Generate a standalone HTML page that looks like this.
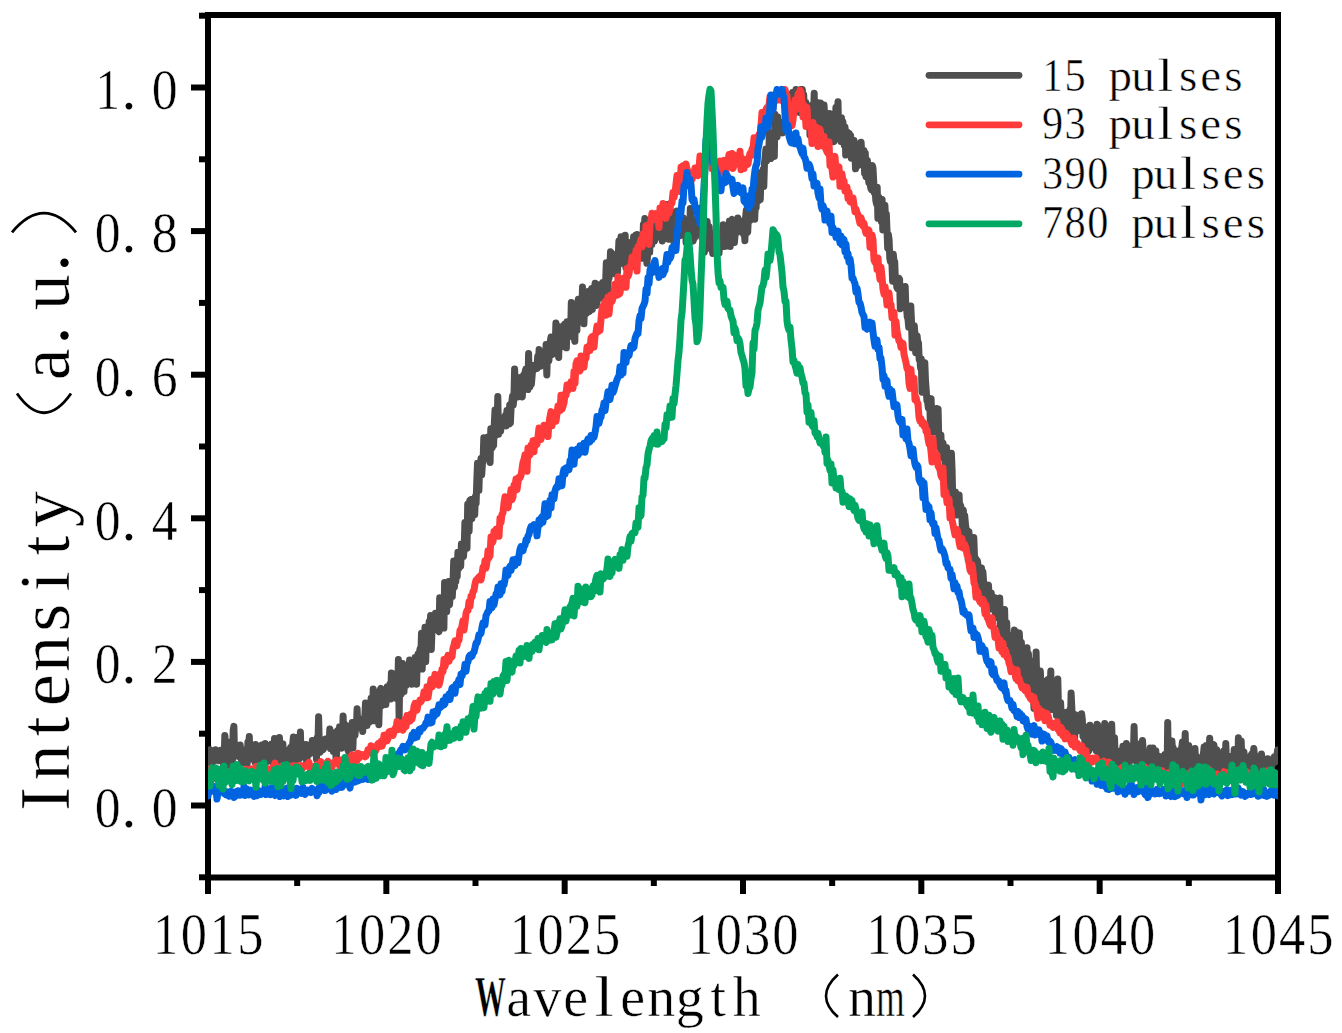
<!DOCTYPE html>
<html><head><meta charset="utf-8"><style>
html,body{margin:0;padding:0;background:#fff;overflow:hidden;}
svg{display:block;font-family:"Liberation Serif",serif;}
</style></head><body>
<svg width="1342" height="1033" viewBox="0 0 1342 1033" font-family="Liberation Serif, serif" fill="#000">
<clipPath id="c"><rect x="208.0" y="15" width="1070.0" height="862"/></clipPath>
<rect x="208" y="15" width="1070" height="862.5" fill="none" stroke="#000" stroke-width="6"/>
<line x1="199" y1="877.30" x2="208" y2="877.30" stroke="#000" stroke-width="6"/>
<line x1="191" y1="805.50" x2="208" y2="805.50" stroke="#000" stroke-width="6"/>
<line x1="199" y1="733.70" x2="208" y2="733.70" stroke="#000" stroke-width="6"/>
<line x1="191" y1="661.90" x2="208" y2="661.90" stroke="#000" stroke-width="6"/>
<line x1="199" y1="590.10" x2="208" y2="590.10" stroke="#000" stroke-width="6"/>
<line x1="191" y1="518.30" x2="208" y2="518.30" stroke="#000" stroke-width="6"/>
<line x1="199" y1="446.50" x2="208" y2="446.50" stroke="#000" stroke-width="6"/>
<line x1="191" y1="374.70" x2="208" y2="374.70" stroke="#000" stroke-width="6"/>
<line x1="199" y1="302.90" x2="208" y2="302.90" stroke="#000" stroke-width="6"/>
<line x1="191" y1="231.10" x2="208" y2="231.10" stroke="#000" stroke-width="6"/>
<line x1="199" y1="159.30" x2="208" y2="159.30" stroke="#000" stroke-width="6"/>
<line x1="191" y1="87.50" x2="208" y2="87.50" stroke="#000" stroke-width="6"/>
<line x1="199" y1="15.70" x2="208" y2="15.70" stroke="#000" stroke-width="6"/>
<line x1="208.00" y1="877.5" x2="208.00" y2="894" stroke="#000" stroke-width="6"/>
<line x1="297.17" y1="877.5" x2="297.17" y2="886" stroke="#000" stroke-width="6"/>
<line x1="386.33" y1="877.5" x2="386.33" y2="894" stroke="#000" stroke-width="6"/>
<line x1="475.50" y1="877.5" x2="475.50" y2="886" stroke="#000" stroke-width="6"/>
<line x1="564.67" y1="877.5" x2="564.67" y2="894" stroke="#000" stroke-width="6"/>
<line x1="653.83" y1="877.5" x2="653.83" y2="886" stroke="#000" stroke-width="6"/>
<line x1="743.00" y1="877.5" x2="743.00" y2="894" stroke="#000" stroke-width="6"/>
<line x1="832.17" y1="877.5" x2="832.17" y2="886" stroke="#000" stroke-width="6"/>
<line x1="921.33" y1="877.5" x2="921.33" y2="894" stroke="#000" stroke-width="6"/>
<line x1="1010.50" y1="877.5" x2="1010.50" y2="886" stroke="#000" stroke-width="6"/>
<line x1="1099.67" y1="877.5" x2="1099.67" y2="894" stroke="#000" stroke-width="6"/>
<line x1="1188.83" y1="877.5" x2="1188.83" y2="886" stroke="#000" stroke-width="6"/>
<line x1="1278.00" y1="877.5" x2="1278.00" y2="894" stroke="#000" stroke-width="6"/>
<g clip-path="url(#c)">
<path d="M208.0 762.5 L208.7 765.6 L209.4 761.8 L210.1 749.8 L210.8 765.4 L211.5 761.8 L212.2 754.5 L212.9 762.3 L213.6 760.5 L214.3 759.8 L215.0 757.6 L215.7 749.8 L216.4 751.6 L217.1 755.6 L217.8 753.1 L218.5 760.8 L219.2 756.5 L219.9 753.9 L220.6 750.2 L221.3 753.9 L222.0 755.7 L222.7 753.5 L223.4 764.9 L224.1 762.7 L224.8 735.4 L225.5 741.3 L226.2 753.8 L226.9 752.0 L227.6 756.6 L228.3 756.6 L229.0 770.5 L229.7 746.9 L230.4 752.3 L231.1 770.0 L231.8 741.6 L232.5 760.0 L233.2 729.9 L233.9 726.4 L234.6 756.6 L235.3 756.3 L236.0 746.7 L236.7 750.7 L237.4 755.3 L238.1 749.0 L238.8 755.3 L239.5 756.9 L240.2 745.1 L240.9 752.7 L241.6 760.8 L242.3 763.1 L243.0 759.0 L243.7 750.8 L244.4 762.1 L245.1 753.2 L245.8 763.3 L246.5 749.2 L247.2 763.6 L247.9 742.0 L248.6 747.9 L249.3 736.4 L250.0 757.4 L250.7 758.9 L251.4 749.8 L252.1 748.8 L252.8 758.3 L253.5 753.4 L254.2 758.4 L254.9 762.2 L255.6 744.6 L256.3 758.3 L257.0 765.3 L257.7 754.2 L258.4 750.3 L259.1 761.6 L259.8 757.9 L260.5 762.5 L261.2 753.4 L261.9 745.0 L262.6 754.9 L263.3 752.4 L264.0 761.3 L264.7 756.9 L265.4 743.5 L266.1 746.6 L266.8 761.8 L267.5 760.2 L268.2 750.5 L268.9 755.1 L269.6 758.4 L270.3 758.5 L271.0 761.4 L271.7 744.1 L272.4 754.3 L273.1 753.1 L273.8 762.7 L274.5 738.5 L275.2 754.0 L275.9 755.2 L276.6 744.6 L277.3 757.4 L278.0 750.2 L278.7 761.3 L279.4 737.4 L280.1 745.2 L280.8 763.9 L281.5 757.8 L282.2 748.6 L282.9 743.9 L283.6 767.8 L284.3 754.2 L285.0 750.0 L285.7 756.1 L286.4 753.6 L287.1 761.2 L287.8 755.2 L288.5 755.1 L289.2 749.8 L289.9 758.4 L290.6 747.4 L291.3 759.9 L292.0 766.2 L292.7 743.8 L293.4 737.0 L294.1 759.5 L294.8 773.6 L295.5 747.7 L296.2 745.8 L296.9 759.3 L297.6 737.3 L298.3 751.2 L299.0 752.3 L299.7 758.6 L300.4 732.0 L301.1 756.5 L301.8 752.9 L302.5 747.8 L303.2 751.4 L303.9 746.5 L304.6 753.3 L305.3 744.6 L306.0 744.6 L306.7 763.1 L307.4 751.5 L308.1 751.2 L308.8 755.0 L309.5 747.7 L310.2 748.8 L310.9 753.2 L311.6 751.8 L312.3 740.6 L313.0 741.0 L313.7 744.1 L314.4 740.2 L315.1 741.0 L315.8 744.4 L316.5 759.3 L317.2 737.8 L317.9 747.5 L318.6 716.7 L319.3 745.7 L320.0 752.3 L320.7 743.3 L321.4 740.0 L322.1 746.4 L322.8 749.8 L323.5 749.2 L324.2 740.9 L324.9 745.3 L325.6 738.9 L326.3 742.3 L327.0 742.5 L327.7 743.7 L328.4 742.4 L329.1 743.8 L329.8 729.1 L330.5 748.5 L331.2 737.3 L331.9 732.4 L332.6 746.4 L333.3 751.6 L334.0 744.9 L334.7 742.0 L335.4 733.2 L336.1 763.1 L336.8 747.1 L337.5 730.8 L338.2 733.5 L338.9 740.1 L339.6 726.8 L340.3 740.3 L341.0 735.0 L341.7 748.3 L342.4 745.9 L343.1 716.0 L343.8 737.9 L344.5 724.1 L345.2 745.9 L345.9 737.9 L346.6 740.7 L347.3 727.1 L348.0 750.5 L348.7 751.7 L349.4 725.9 L350.1 737.3 L350.8 728.2 L351.5 733.2 L352.2 722.4 L352.9 748.1 L353.6 723.8 L354.3 729.0 L355.0 735.2 L355.7 724.9 L356.4 727.9 L357.1 708.7 L357.8 727.7 L358.5 718.2 L359.2 723.9 L359.9 725.3 L360.6 723.6 L361.3 726.4 L362.0 722.8 L362.7 731.4 L363.4 721.3 L364.1 722.3 L364.8 717.0 L365.5 703.0 L366.2 710.3 L366.9 725.6 L367.6 710.0 L368.3 712.9 L369.0 722.3 L369.7 722.0 L370.4 713.9 L371.1 698.2 L371.8 720.0 L372.5 717.6 L373.2 689.0 L373.9 720.8 L374.6 706.0 L375.3 701.0 L376.0 711.7 L376.7 708.1 L377.4 710.8 L378.1 692.3 L378.8 724.7 L379.5 700.0 L380.2 689.7 L380.9 688.3 L381.6 699.5 L382.3 705.4 L383.0 697.7 L383.7 699.6 L384.4 701.8 L385.1 690.8 L385.8 704.6 L386.5 691.9 L387.2 686.9 L387.9 696.0 L388.6 699.1 L389.3 691.3 L390.0 683.9 L390.7 699.0 L391.4 673.0 L392.1 680.2 L392.8 673.5 L393.5 675.4 L394.2 689.8 L394.9 688.4 L395.6 698.2 L396.3 678.0 L397.0 680.7 L397.7 690.6 L398.4 659.6 L399.1 718.8 L399.8 677.8 L400.5 676.9 L401.2 693.9 L401.9 683.4 L402.6 663.5 L403.3 673.8 L404.0 691.6 L404.7 676.4 L405.4 677.6 L406.1 685.6 L406.8 669.0 L407.5 683.6 L408.2 680.0 L408.9 669.1 L409.6 659.9 L410.3 672.3 L411.0 663.8 L411.7 684.2 L412.4 673.2 L413.1 679.3 L413.8 670.5 L414.5 670.7 L415.2 657.4 L415.9 672.7 L416.6 684.2 L417.3 658.7 L418.0 654.1 L418.7 657.7 L419.4 652.6 L420.1 648.7 L420.8 657.0 L421.5 633.2 L422.2 669.1 L422.9 651.1 L423.6 653.4 L424.3 659.1 L425.0 627.2 L425.7 661.6 L426.4 636.3 L427.1 632.8 L427.8 636.4 L428.5 637.8 L429.2 621.5 L429.9 635.8 L430.6 615.6 L431.3 649.4 L432.0 631.1 L432.7 623.3 L433.4 618.8 L434.1 623.5 L434.8 624.0 L435.5 613.2 L436.2 613.3 L436.9 620.4 L437.6 615.3 L438.3 630.7 L439.0 631.7 L439.7 597.8 L440.4 621.4 L441.1 599.3 L441.8 620.7 L442.5 611.7 L443.2 616.5 L443.9 628.1 L444.6 582.4 L445.3 610.4 L446.0 593.6 L446.7 611.7 L447.4 588.3 L448.1 596.1 L448.8 581.6 L449.5 604.6 L450.2 595.9 L450.9 583.2 L451.6 583.1 L452.3 596.6 L453.0 583.3 L453.7 561.0 L454.4 587.1 L455.1 579.3 L455.8 581.8 L456.5 565.3 L457.2 576.3 L457.9 552.2 L458.6 568.7 L459.3 554.2 L460.0 565.2 L460.7 566.5 L461.4 543.9 L462.1 549.0 L462.8 547.0 L463.5 556.5 L464.2 547.5 L464.9 522.4 L465.6 537.3 L466.3 522.5 L467.0 548.3 L467.7 504.2 L468.4 513.7 L469.1 531.1 L469.8 500.3 L470.5 499.8 L471.2 515.8 L471.9 518.9 L472.6 499.2 L473.3 509.5 L474.0 502.8 L474.7 514.7 L475.4 496.4 L476.1 503.3 L476.8 480.9 L477.5 463.3 L478.2 481.9 L478.9 490.4 L479.6 467.3 L480.3 465.5 L481.0 458.5 L481.7 474.8 L482.4 464.1 L483.1 460.5 L483.8 437.7 L484.5 443.1 L485.2 458.6 L485.9 457.1 L486.6 445.1 L487.3 458.0 L488.0 437.0 L488.7 442.9 L489.4 442.0 L490.1 462.5 L490.8 428.7 L491.5 446.3 L492.2 447.9 L492.9 440.6 L493.6 445.4 L494.3 423.5 L495.0 410.0 L495.7 435.4 L496.4 416.8 L497.1 423.5 L497.8 396.5 L498.5 434.2 L499.2 420.4 L499.9 417.4 L500.6 431.2 L501.3 423.7 L502.0 420.9 L502.7 422.1 L503.4 419.1 L504.1 425.6 L504.8 422.0 L505.5 415.2 L506.2 425.9 L506.9 410.4 L507.6 416.9 L508.3 416.5 L509.0 424.1 L509.7 405.0 L510.4 422.8 L511.1 407.3 L511.8 402.2 L512.5 396.2 L513.2 405.2 L513.9 398.7 L514.6 368.9 L515.3 384.3 L516.0 386.8 L516.7 383.3 L517.4 396.2 L518.1 396.7 L518.8 390.8 L519.5 385.3 L520.2 377.6 L520.9 380.8 L521.6 387.1 L522.3 396.9 L523.0 385.8 L523.7 375.0 L524.4 377.1 L525.1 372.1 L525.8 369.0 L526.5 373.5 L527.2 376.2 L527.9 389.6 L528.6 353.4 L529.3 384.2 L530.0 387.0 L530.7 371.9 L531.4 384.2 L532.1 375.9 L532.8 365.6 L533.5 370.7 L534.2 367.9 L534.9 365.0 L535.6 364.5 L536.3 366.7 L537.0 368.5 L537.7 356.5 L538.4 363.2 L539.1 349.6 L539.8 352.4 L540.5 366.3 L541.2 361.6 L541.9 361.9 L542.6 363.7 L543.3 352.2 L544.0 355.0 L544.7 360.5 L545.4 363.7 L546.1 344.4 L546.8 375.0 L547.5 351.5 L548.2 359.7 L548.9 360.9 L549.6 348.0 L550.3 341.1 L551.0 337.0 L551.7 347.4 L552.4 354.5 L553.1 346.5 L553.8 344.8 L554.5 339.3 L555.2 346.5 L555.9 322.9 L556.6 342.5 L557.3 340.2 L558.0 327.8 L558.7 357.5 L559.4 326.8 L560.1 329.1 L560.8 327.6 L561.5 346.9 L562.2 329.5 L562.9 342.3 L563.6 325.6 L564.3 337.8 L565.0 323.9 L565.7 329.1 L566.4 347.8 L567.1 321.8 L567.8 324.8 L568.5 329.6 L569.2 336.9 L569.9 331.2 L570.6 334.3 L571.3 302.6 L572.0 312.2 L572.7 329.7 L573.4 310.3 L574.1 335.9 L574.8 341.3 L575.5 314.2 L576.2 320.1 L576.9 330.4 L577.6 304.7 L578.3 299.3 L579.0 304.0 L579.7 309.1 L580.4 307.8 L581.1 316.8 L581.8 312.9 L582.5 287.1 L583.2 313.6 L583.9 323.8 L584.6 304.3 L585.3 314.6 L586.0 305.6 L586.7 313.0 L587.4 295.7 L588.1 291.6 L588.8 301.8 L589.5 311.4 L590.2 305.0 L590.9 291.1 L591.6 288.5 L592.3 309.3 L593.0 288.6 L593.7 292.7 L594.4 290.1 L595.1 283.2 L595.8 303.3 L596.5 305.5 L597.2 300.4 L597.9 294.9 L598.6 291.7 L599.3 293.4 L600.0 284.4 L600.7 297.3 L601.4 297.8 L602.1 295.9 L602.8 282.4 L603.5 286.5 L604.2 283.2 L604.9 298.2 L605.6 282.5 L606.3 262.8 L607.0 279.8 L607.7 290.2 L608.4 277.9 L609.1 277.9 L609.8 269.5 L610.5 251.8 L611.2 252.6 L611.9 256.9 L612.6 266.0 L613.3 269.4 L614.0 254.5 L614.7 263.3 L615.4 274.0 L616.1 263.2 L616.8 259.3 L617.5 272.2 L618.2 256.8 L618.9 240.9 L619.6 254.5 L620.3 263.7 L621.0 236.8 L621.7 258.5 L622.4 258.0 L623.1 247.9 L623.8 246.7 L624.5 254.6 L625.2 235.2 L625.9 267.7 L626.6 259.3 L627.3 241.9 L628.0 247.2 L628.7 242.5 L629.4 268.8 L630.1 255.2 L630.8 253.8 L631.5 266.3 L632.2 249.6 L632.9 246.7 L633.6 236.7 L634.3 243.9 L635.0 266.3 L635.7 235.3 L636.4 247.0 L637.1 234.5 L637.8 247.2 L638.5 253.2 L639.2 243.2 L639.9 251.1 L640.6 250.6 L641.3 247.9 L642.0 258.2 L642.7 249.8 L643.4 224.5 L644.1 236.4 L644.8 218.4 L645.5 230.2 L646.2 237.9 L646.9 263.3 L647.6 255.2 L648.3 237.2 L649.0 235.7 L649.7 252.4 L650.4 221.5 L651.1 233.2 L651.8 244.7 L652.5 228.5 L653.2 231.9 L653.9 232.6 L654.6 240.9 L655.3 236.1 L656.0 238.0 L656.7 224.1 L657.4 234.3 L658.1 228.4 L658.8 227.3 L659.5 221.0 L660.2 217.8 L660.9 218.9 L661.6 227.8 L662.3 241.0 L663.0 233.5 L663.7 226.7 L664.4 222.5 L665.1 226.9 L665.8 227.8 L666.5 226.3 L667.2 204.4 L667.9 226.8 L668.6 239.3 L669.3 212.0 L670.0 215.4 L670.7 212.2 L671.4 231.7 L672.1 223.6 L672.8 212.1 L673.5 213.4 L674.2 245.1 L674.9 230.4 L675.6 239.3 L676.3 228.7 L677.0 210.9 L677.7 233.3 L678.4 225.5 L679.1 216.6 L679.8 235.7 L680.5 231.4 L681.2 224.5 L681.9 218.7 L682.6 221.7 L683.3 217.7 L684.0 221.4 L684.7 234.1 L685.4 220.5 L686.1 242.7 L686.8 232.5 L687.5 242.8 L688.2 223.9 L688.9 227.1 L689.6 238.6 L690.3 208.4 L691.0 222.9 L691.7 241.1 L692.4 236.5 L693.1 241.1 L693.8 230.3 L694.5 237.9 L695.2 227.1 L695.9 221.8 L696.6 219.2 L697.3 229.0 L698.0 229.2 L698.7 228.6 L699.4 208.6 L700.1 217.3 L700.8 229.8 L701.5 236.9 L702.2 229.7 L702.9 227.3 L703.6 215.3 L704.3 252.2 L705.0 225.8 L705.7 249.7 L706.4 248.8 L707.1 221.5 L707.8 231.1 L708.5 237.3 L709.2 226.7 L709.9 239.0 L710.6 237.3 L711.3 242.2 L712.0 246.2 L712.7 253.4 L713.4 235.9 L714.1 248.6 L714.8 233.5 L715.5 233.1 L716.2 235.9 L716.9 233.3 L717.6 250.3 L718.3 250.2 L719.0 253.4 L719.7 242.6 L720.4 245.3 L721.1 238.1 L721.8 233.1 L722.5 246.5 L723.2 224.8 L723.9 232.7 L724.6 246.6 L725.3 226.4 L726.0 239.1 L726.7 234.6 L727.4 234.8 L728.1 229.4 L728.8 246.0 L729.5 220.9 L730.2 246.5 L730.9 236.8 L731.6 223.9 L732.3 219.4 L733.0 223.5 L733.7 236.8 L734.4 242.6 L735.1 234.6 L735.8 226.3 L736.5 227.8 L737.2 232.3 L737.9 217.9 L738.6 231.1 L739.3 231.2 L740.0 224.5 L740.7 225.3 L741.4 229.9 L742.1 221.2 L742.8 220.8 L743.5 234.0 L744.2 228.8 L744.9 240.7 L745.6 217.6 L746.3 210.3 L747.0 232.8 L747.7 232.2 L748.4 217.1 L749.1 209.8 L749.8 220.5 L750.5 204.5 L751.2 214.7 L751.9 197.0 L752.6 211.4 L753.3 193.2 L754.0 206.8 L754.7 219.3 L755.4 201.6 L756.1 207.9 L756.8 193.4 L757.5 188.8 L758.2 181.3 L758.9 200.3 L759.6 172.7 L760.3 199.5 L761.0 172.7 L761.7 177.7 L762.4 177.3 L763.1 169.5 L763.8 186.4 L764.5 162.8 L765.2 156.3 L765.9 149.0 L766.6 161.0 L767.3 159.0 L768.0 152.3 L768.7 155.5 L769.4 132.4 L770.1 137.7 L770.8 158.6 L771.5 152.2 L772.2 148.3 L772.9 136.6 L773.6 148.2 L774.3 156.4 L775.0 114.2 L775.7 137.5 L776.4 131.9 L777.1 137.0 L777.8 117.0 L778.5 130.0 L779.2 122.8 L779.9 129.4 L780.6 123.7 L781.3 127.1 L782.0 127.3 L782.7 132.9 L783.4 122.0 L784.1 123.7 L784.8 123.5 L785.5 123.3 L786.2 122.0 L786.9 130.4 L787.6 123.7 L788.3 120.3 L789.0 119.2 L789.7 104.5 L790.4 116.5 L791.1 121.4 L791.8 112.8 L792.5 92.4 L793.2 106.1 L793.9 94.3 L794.6 98.8 L795.3 101.0 L796.0 89.5 L796.7 111.1 L797.4 99.3 L798.1 107.0 L798.8 106.0 L799.5 112.5 L800.2 96.0 L800.9 89.5 L801.6 103.0 L802.3 89.5 L803.0 99.9 L803.7 94.8 L804.4 112.5 L805.1 116.2 L805.8 102.6 L806.5 109.1 L807.2 107.9 L807.9 118.4 L808.6 121.7 L809.3 105.8 L810.0 135.1 L810.7 109.8 L811.4 107.2 L812.1 115.9 L812.8 117.6 L813.5 116.2 L814.2 93.2 L814.9 124.8 L815.6 113.0 L816.3 125.9 L817.0 125.0 L817.7 102.6 L818.4 105.4 L819.1 105.5 L819.8 116.4 L820.5 102.9 L821.2 117.2 L821.9 108.3 L822.6 119.2 L823.3 127.8 L824.0 104.9 L824.7 115.0 L825.4 119.2 L826.1 116.4 L826.8 116.3 L827.5 133.5 L828.2 129.9 L828.9 126.7 L829.6 113.6 L830.3 139.6 L831.0 124.2 L831.7 116.8 L832.4 119.5 L833.1 118.8 L833.8 141.7 L834.5 126.1 L835.2 125.6 L835.9 107.4 L836.6 121.0 L837.3 118.2 L838.0 101.8 L838.7 134.1 L839.4 122.5 L840.1 138.0 L840.8 141.4 L841.5 117.8 L842.2 132.9 L842.9 121.8 L843.6 135.8 L844.3 145.3 L845.0 127.1 L845.7 155.1 L846.4 138.3 L847.1 132.0 L847.8 142.1 L848.5 139.9 L849.2 133.4 L849.9 146.1 L850.6 135.4 L851.3 158.2 L852.0 150.1 L852.7 146.1 L853.4 144.0 L854.1 140.5 L854.8 148.9 L855.5 168.8 L856.2 153.0 L856.9 166.5 L857.6 157.5 L858.3 150.8 L859.0 155.7 L859.7 159.5 L860.4 156.4 L861.1 142.3 L861.8 155.5 L862.5 150.7 L863.2 165.5 L863.9 150.5 L864.6 173.4 L865.3 153.0 L866.0 176.6 L866.7 171.0 L867.4 160.4 L868.1 174.9 L868.8 182.5 L869.5 181.6 L870.2 184.9 L870.9 188.5 L871.6 189.8 L872.3 165.5 L873.0 168.1 L873.7 181.3 L874.4 192.9 L875.1 188.1 L875.8 200.3 L876.5 203.8 L877.2 187.3 L877.9 218.3 L878.6 196.8 L879.3 215.8 L880.0 206.7 L880.7 207.0 L881.4 221.6 L882.1 199.4 L882.8 229.9 L883.5 215.6 L884.2 228.8 L884.9 205.3 L885.6 219.9 L886.3 214.0 L887.0 230.2 L887.7 248.1 L888.4 234.7 L889.1 239.7 L889.8 258.4 L890.5 261.9 L891.2 262.0 L891.9 262.0 L892.6 281.2 L893.3 254.3 L894.0 261.0 L894.7 261.5 L895.4 280.3 L896.1 277.7 L896.8 287.2 L897.5 288.6 L898.2 280.8 L898.9 278.2 L899.6 279.2 L900.3 308.8 L901.0 300.7 L901.7 299.9 L902.4 294.3 L903.1 297.9 L903.8 299.1 L904.5 301.8 L905.2 286.6 L905.9 309.0 L906.6 308.8 L907.3 317.1 L908.0 319.0 L908.7 327.1 L909.4 322.4 L910.1 313.6 L910.8 306.0 L911.5 321.1 L912.2 347.8 L912.9 325.5 L913.6 336.1 L914.3 325.8 L915.0 336.4 L915.7 352.7 L916.4 337.1 L917.1 335.6 L917.8 343.2 L918.5 343.1 L919.2 359.6 L919.9 359.7 L920.6 367.9 L921.3 359.1 L922.0 392.3 L922.7 372.7 L923.4 376.0 L924.1 383.2 L924.8 362.7 L925.5 380.3 L926.2 389.9 L926.9 400.6 L927.6 401.9 L928.3 407.8 L929.0 398.2 L929.7 399.6 L930.4 427.0 L931.1 398.8 L931.8 419.2 L932.5 423.8 L933.2 432.0 L933.9 409.6 L934.6 419.3 L935.3 421.8 L936.0 425.0 L936.7 408.5 L937.4 431.4 L938.1 409.0 L938.8 440.1 L939.5 445.0 L940.2 448.3 L940.9 434.9 L941.6 457.2 L942.3 443.6 L943.0 443.0 L943.7 447.9 L944.4 451.8 L945.1 463.9 L945.8 472.6 L946.5 447.4 L947.2 464.6 L947.9 480.9 L948.6 476.6 L949.3 482.0 L950.0 464.8 L950.7 491.2 L951.4 453.3 L952.1 469.9 L952.8 502.6 L953.5 510.2 L954.2 498.8 L954.9 504.9 L955.6 492.1 L956.3 495.7 L957.0 515.0 L957.7 505.2 L958.4 506.1 L959.1 495.0 L959.8 513.6 L960.5 504.9 L961.2 508.1 L961.9 513.4 L962.6 538.0 L963.3 510.2 L964.0 522.5 L964.7 515.6 L965.4 523.5 L966.1 529.9 L966.8 550.2 L967.5 530.6 L968.2 559.8 L968.9 531.7 L969.6 540.4 L970.3 542.5 L971.0 546.2 L971.7 541.6 L972.4 551.7 L973.1 560.5 L973.8 537.6 L974.5 556.5 L975.2 560.1 L975.9 558.7 L976.6 573.7 L977.3 560.7 L978.0 564.9 L978.7 571.4 L979.4 581.3 L980.1 572.2 L980.8 594.0 L981.5 567.9 L982.2 594.9 L982.9 571.9 L983.6 581.6 L984.3 589.3 L985.0 610.4 L985.7 598.6 L986.4 585.2 L987.1 606.3 L987.8 590.3 L988.5 585.1 L989.2 600.7 L989.9 598.0 L990.6 609.1 L991.3 593.1 L992.0 605.1 L992.7 609.2 L993.4 606.4 L994.1 604.1 L994.8 597.7 L995.5 617.4 L996.2 609.9 L996.9 615.4 L997.6 607.0 L998.3 612.7 L999.0 602.1 L999.7 598.0 L1000.4 626.0 L1001.1 620.0 L1001.8 630.6 L1002.5 626.2 L1003.2 640.1 L1003.9 624.2 L1004.6 609.4 L1005.3 635.1 L1006.0 630.2 L1006.7 622.7 L1007.4 643.3 L1008.1 640.6 L1008.8 644.4 L1009.5 637.1 L1010.2 644.8 L1010.9 646.9 L1011.6 665.7 L1012.3 638.6 L1013.0 634.8 L1013.7 652.9 L1014.4 629.9 L1015.1 632.3 L1015.8 676.5 L1016.5 632.2 L1017.2 660.0 L1017.9 644.5 L1018.6 646.3 L1019.3 633.1 L1020.0 646.4 L1020.7 647.2 L1021.4 642.5 L1022.1 666.2 L1022.8 663.9 L1023.5 684.5 L1024.2 656.8 L1024.9 677.9 L1025.6 674.8 L1026.3 662.4 L1027.0 647.8 L1027.7 685.5 L1028.4 653.7 L1029.1 665.3 L1029.8 682.2 L1030.5 686.2 L1031.2 665.0 L1031.9 675.6 L1032.6 674.4 L1033.3 692.1 L1034.0 708.3 L1034.7 660.7 L1035.4 692.7 L1036.1 652.1 L1036.8 685.1 L1037.5 674.0 L1038.2 709.0 L1038.9 690.2 L1039.6 681.5 L1040.3 671.0 L1041.0 685.3 L1041.7 694.3 L1042.4 691.6 L1043.1 701.1 L1043.8 711.2 L1044.5 703.3 L1045.2 684.2 L1045.9 681.1 L1046.6 690.9 L1047.3 710.3 L1048.0 679.6 L1048.7 694.4 L1049.4 703.4 L1050.1 688.6 L1050.8 671.1 L1051.5 709.5 L1052.2 702.2 L1052.9 701.4 L1053.6 709.8 L1054.3 701.7 L1055.0 701.4 L1055.7 686.8 L1056.4 715.3 L1057.1 710.8 L1057.8 678.9 L1058.5 708.6 L1059.2 718.3 L1059.9 730.5 L1060.6 702.7 L1061.3 717.2 L1062.0 712.2 L1062.7 722.9 L1063.4 720.0 L1064.1 730.0 L1064.8 721.7 L1065.5 712.4 L1066.2 713.0 L1066.9 722.2 L1067.6 722.6 L1068.3 729.3 L1069.0 735.2 L1069.7 709.9 L1070.4 724.2 L1071.1 693.0 L1071.8 707.2 L1072.5 729.2 L1073.2 728.0 L1073.9 714.4 L1074.6 738.6 L1075.3 716.1 L1076.0 715.0 L1076.7 731.5 L1077.4 728.2 L1078.1 725.5 L1078.8 726.9 L1079.5 730.0 L1080.2 727.5 L1080.9 727.8 L1081.6 713.8 L1082.3 719.2 L1083.0 736.3 L1083.7 725.9 L1084.4 737.0 L1085.1 743.4 L1085.8 730.8 L1086.5 736.7 L1087.2 752.0 L1087.9 741.3 L1088.6 751.2 L1089.3 749.3 L1090.0 725.3 L1090.7 737.1 L1091.4 731.8 L1092.1 730.2 L1092.8 730.8 L1093.5 743.9 L1094.2 739.4 L1094.9 747.9 L1095.6 737.0 L1096.3 750.9 L1097.0 724.3 L1097.7 724.6 L1098.4 743.6 L1099.1 743.3 L1099.8 763.7 L1100.5 732.6 L1101.2 746.8 L1101.9 755.3 L1102.6 751.7 L1103.3 744.4 L1104.0 760.3 L1104.7 723.4 L1105.4 738.1 L1106.1 752.6 L1106.8 737.8 L1107.5 731.3 L1108.2 756.0 L1108.9 755.5 L1109.6 755.6 L1110.3 746.8 L1111.0 752.2 L1111.7 724.2 L1112.4 753.2 L1113.1 757.5 L1113.8 757.4 L1114.5 737.8 L1115.2 758.4 L1115.9 763.7 L1116.6 761.9 L1117.3 759.0 L1118.0 753.4 L1118.7 751.1 L1119.4 758.2 L1120.1 756.8 L1120.8 756.0 L1121.5 752.2 L1122.2 767.0 L1122.9 746.3 L1123.6 754.9 L1124.3 751.0 L1125.0 762.9 L1125.7 766.0 L1126.4 743.6 L1127.1 761.4 L1127.8 745.8 L1128.5 771.4 L1129.2 760.1 L1129.9 755.7 L1130.6 756.8 L1131.3 754.3 L1132.0 759.9 L1132.7 759.2 L1133.4 754.4 L1134.1 726.5 L1134.8 757.0 L1135.5 760.8 L1136.2 761.3 L1136.9 756.4 L1137.6 760.9 L1138.3 765.1 L1139.0 754.3 L1139.7 768.5 L1140.4 743.7 L1141.1 748.8 L1141.8 751.5 L1142.5 740.4 L1143.2 750.9 L1143.9 767.3 L1144.6 767.3 L1145.3 759.1 L1146.0 770.9 L1146.7 760.2 L1147.4 754.9 L1148.1 760.4 L1148.8 757.7 L1149.5 764.1 L1150.2 748.0 L1150.9 766.1 L1151.6 755.6 L1152.3 765.2 L1153.0 748.0 L1153.7 756.2 L1154.4 759.8 L1155.1 765.9 L1155.8 750.7 L1156.5 771.5 L1157.2 763.1 L1157.9 755.9 L1158.6 768.5 L1159.3 760.6 L1160.0 768.3 L1160.7 776.7 L1161.4 765.7 L1162.1 756.4 L1162.8 757.2 L1163.5 764.6 L1164.2 762.5 L1164.9 754.6 L1165.6 755.8 L1166.3 765.5 L1167.0 777.6 L1167.7 722.5 L1168.4 766.1 L1169.1 759.4 L1169.8 766.6 L1170.5 767.2 L1171.2 761.5 L1171.9 741.1 L1172.6 751.2 L1173.3 747.8 L1174.0 770.0 L1174.7 759.8 L1175.4 757.5 L1176.1 759.5 L1176.8 751.9 L1177.5 763.7 L1178.2 771.0 L1178.9 769.8 L1179.6 750.5 L1180.3 771.5 L1181.0 756.3 L1181.7 748.1 L1182.4 741.9 L1183.1 755.0 L1183.8 761.8 L1184.5 754.6 L1185.2 733.6 L1185.9 760.1 L1186.6 775.7 L1187.3 757.0 L1188.0 765.3 L1188.7 745.5 L1189.4 781.0 L1190.1 748.5 L1190.8 769.8 L1191.5 752.9 L1192.2 757.8 L1192.9 761.3 L1193.6 783.4 L1194.3 756.6 L1195.0 748.5 L1195.7 771.3 L1196.4 756.0 L1197.1 760.3 L1197.8 761.8 L1198.5 762.7 L1199.2 760.8 L1199.9 763.9 L1200.6 764.8 L1201.3 768.1 L1202.0 759.0 L1202.7 756.7 L1203.4 754.4 L1204.1 747.0 L1204.8 761.7 L1205.5 765.9 L1206.2 745.4 L1206.9 774.0 L1207.6 763.5 L1208.3 767.4 L1209.0 753.4 L1209.7 738.2 L1210.4 759.8 L1211.1 753.4 L1211.8 767.0 L1212.5 752.6 L1213.2 745.9 L1213.9 744.7 L1214.6 754.4 L1215.3 759.9 L1216.0 760.6 L1216.7 749.7 L1217.4 763.3 L1218.1 769.5 L1218.8 767.3 L1219.5 758.0 L1220.2 758.6 L1220.9 754.4 L1221.6 767.3 L1222.3 773.1 L1223.0 759.2 L1223.7 750.9 L1224.4 764.4 L1225.1 768.0 L1225.8 743.6 L1226.5 764.0 L1227.2 778.4 L1227.9 768.8 L1228.6 766.9 L1229.3 765.9 L1230.0 770.5 L1230.7 756.3 L1231.4 757.0 L1232.1 765.9 L1232.8 758.1 L1233.5 764.8 L1234.2 749.4 L1234.9 768.4 L1235.6 769.0 L1236.3 763.3 L1237.0 764.2 L1237.7 774.5 L1238.4 737.8 L1239.1 756.5 L1239.8 755.2 L1240.5 760.0 L1241.2 741.1 L1241.9 763.3 L1242.6 758.4 L1243.3 752.7 L1244.0 752.0 L1244.7 771.6 L1245.4 762.5 L1246.1 761.4 L1246.8 763.2 L1247.5 762.4 L1248.2 768.4 L1248.9 767.0 L1249.6 758.8 L1250.3 757.1 L1251.0 755.2 L1251.7 754.0 L1252.4 772.8 L1253.1 756.3 L1253.8 748.5 L1254.5 756.8 L1255.2 757.2 L1255.9 765.1 L1256.6 756.4 L1257.3 766.5 L1258.0 765.4 L1258.7 771.6 L1259.4 778.0 L1260.1 782.8 L1260.8 772.1 L1261.5 754.1 L1262.2 759.5 L1262.9 764.1 L1263.6 777.0 L1264.3 767.0 L1265.0 770.7 L1265.7 760.9 L1266.4 766.3 L1267.1 767.1 L1267.8 758.7 L1268.5 767.4 L1269.2 769.5 L1269.9 760.6 L1270.6 769.0 L1271.3 773.4 L1272.0 762.0 L1272.7 761.5 L1273.4 759.2 L1274.1 756.9 L1274.8 762.4 L1275.5 758.3 L1276.2 758.9 L1276.9 755.6 L1277.6 750.0" fill="none" stroke="#4f4f4f" stroke-width="7.0" stroke-linejoin="round" stroke-linecap="round"/>
<path d="M208.0 775.5 L209.0 773.5 L210.0 773.8 L211.0 768.3 L212.0 779.5 L213.0 777.7 L214.0 773.7 L215.0 776.6 L216.0 775.2 L217.0 772.9 L218.0 776.9 L219.0 773.4 L220.0 773.3 L221.0 772.0 L222.0 775.3 L223.0 773.7 L224.0 775.4 L225.0 772.2 L226.0 774.1 L227.0 771.3 L228.0 775.9 L229.0 774.1 L230.0 774.4 L231.0 774.5 L232.0 770.6 L233.0 775.4 L234.0 778.7 L235.0 768.7 L236.0 768.4 L237.0 769.0 L238.0 775.2 L239.0 773.2 L240.0 775.7 L241.0 774.6 L242.0 773.2 L243.0 773.3 L244.0 772.0 L245.0 774.7 L246.0 769.3 L247.0 771.1 L248.0 772.8 L249.0 776.9 L250.0 769.9 L251.0 769.0 L252.0 770.3 L253.0 774.4 L254.0 771.0 L255.0 775.2 L256.0 766.5 L257.0 774.5 L258.0 774.1 L259.0 767.4 L260.0 771.6 L261.0 774.3 L262.0 771.2 L263.0 773.6 L264.0 777.2 L265.0 771.4 L266.0 769.8 L267.0 768.4 L268.0 772.1 L269.0 769.8 L270.0 769.7 L271.0 769.8 L272.0 771.8 L273.0 767.0 L274.0 765.7 L275.0 763.1 L276.0 772.9 L277.0 769.7 L278.0 773.5 L279.0 769.3 L280.0 767.2 L281.0 770.5 L282.0 768.9 L283.0 765.6 L284.0 766.5 L285.0 773.6 L286.0 769.7 L287.0 769.8 L288.0 767.8 L289.0 766.6 L290.0 770.9 L291.0 768.1 L292.0 766.2 L293.0 767.9 L294.0 765.7 L295.0 766.1 L296.0 771.1 L297.0 765.7 L298.0 771.8 L299.0 766.1 L300.0 768.3 L301.0 765.5 L302.0 767.2 L303.0 767.9 L304.0 766.5 L305.0 765.8 L306.0 765.8 L307.0 765.4 L308.0 763.3 L309.0 762.4 L310.0 768.6 L311.0 770.0 L312.0 769.2 L313.0 774.1 L314.0 768.2 L315.0 766.1 L316.0 772.4 L317.0 764.4 L318.0 769.8 L319.0 764.5 L320.0 768.0 L321.0 761.6 L322.0 769.4 L323.0 766.4 L324.0 764.0 L325.0 771.1 L326.0 768.4 L327.0 766.3 L328.0 761.2 L329.0 765.6 L330.0 765.0 L331.0 767.2 L332.0 767.1 L333.0 762.8 L334.0 762.8 L335.0 762.6 L336.0 760.0 L337.0 761.8 L338.0 762.9 L339.0 764.7 L340.0 766.2 L341.0 760.0 L342.0 763.4 L343.0 760.4 L344.0 767.1 L345.0 760.9 L346.0 762.1 L347.0 757.8 L348.0 757.9 L349.0 760.4 L350.0 758.5 L351.0 760.3 L352.0 754.7 L353.0 760.6 L354.0 756.0 L355.0 763.0 L356.0 757.1 L357.0 760.7 L358.0 753.3 L359.0 758.2 L360.0 754.1 L361.0 754.9 L362.0 756.0 L363.0 754.7 L364.0 755.9 L365.0 756.9 L366.0 756.2 L367.0 753.7 L368.0 749.6 L369.0 750.7 L370.0 751.9 L371.0 745.8 L372.0 753.4 L373.0 749.9 L374.0 749.1 L375.0 751.8 L376.0 750.2 L377.0 745.4 L378.0 743.7 L379.0 746.7 L380.0 745.9 L381.0 741.4 L382.0 746.1 L383.0 743.6 L384.0 735.2 L385.0 740.2 L386.0 734.9 L387.0 740.9 L388.0 738.8 L389.0 731.9 L390.0 731.4 L391.0 733.2 L392.0 731.1 L393.0 735.5 L394.0 732.3 L395.0 728.3 L396.0 730.2 L397.0 721.5 L398.0 728.1 L399.0 729.2 L400.0 725.4 L401.0 723.2 L402.0 726.6 L403.0 730.3 L404.0 724.2 L405.0 719.4 L406.0 726.7 L407.0 715.5 L408.0 722.1 L409.0 717.6 L410.0 721.2 L411.0 714.1 L412.0 719.4 L413.0 714.5 L414.0 706.1 L415.0 703.4 L416.0 706.9 L417.0 710.2 L418.0 704.6 L419.0 702.6 L420.0 700.0 L421.0 701.7 L422.0 699.1 L423.0 697.4 L424.0 691.8 L425.0 697.8 L426.0 697.1 L427.0 686.8 L428.0 697.7 L429.0 691.1 L430.0 685.7 L431.0 679.5 L432.0 686.9 L433.0 685.2 L434.0 679.9 L435.0 674.4 L436.0 683.2 L437.0 675.9 L438.0 674.9 L439.0 685.2 L440.0 681.3 L441.0 675.7 L442.0 669.3 L443.0 671.7 L444.0 659.6 L445.0 666.6 L446.0 661.8 L447.0 658.2 L448.0 655.3 L449.0 661.2 L450.0 657.8 L451.0 656.2 L452.0 656.8 L453.0 648.5 L454.0 644.9 L455.0 640.7 L456.0 643.9 L457.0 645.7 L458.0 639.7 L459.0 640.1 L460.0 630.2 L461.0 630.0 L462.0 625.8 L463.0 620.8 L464.0 630.0 L465.0 623.0 L466.0 613.4 L467.0 610.4 L468.0 610.3 L469.0 601.7 L470.0 606.4 L471.0 596.2 L472.0 597.0 L473.0 591.3 L474.0 590.6 L475.0 584.0 L476.0 580.0 L477.0 579.7 L478.0 578.1 L479.0 577.0 L480.0 576.0 L481.0 579.9 L482.0 574.3 L483.0 567.3 L484.0 569.3 L485.0 560.7 L486.0 568.0 L487.0 561.7 L488.0 550.7 L489.0 557.9 L490.0 555.7 L491.0 537.0 L492.0 543.1 L493.0 541.4 L494.0 531.4 L495.0 532.2 L496.0 529.3 L497.0 532.8 L498.0 528.4 L499.0 536.3 L500.0 518.3 L501.0 522.7 L502.0 514.5 L503.0 512.6 L504.0 503.0 L505.0 496.8 L506.0 500.2 L507.0 505.7 L508.0 507.7 L509.0 500.8 L510.0 498.3 L511.0 489.5 L512.0 499.7 L513.0 496.8 L514.0 485.3 L515.0 485.8 L516.0 479.0 L517.0 489.7 L518.0 482.2 L519.0 477.4 L520.0 477.9 L521.0 475.8 L522.0 469.0 L523.0 462.2 L524.0 459.6 L525.0 454.8 L526.0 464.2 L527.0 471.3 L528.0 447.9 L529.0 455.6 L530.0 455.0 L531.0 445.3 L532.0 449.8 L533.0 440.8 L534.0 451.8 L535.0 440.3 L536.0 442.6 L537.0 444.4 L538.0 436.8 L539.0 427.9 L540.0 433.6 L541.0 439.5 L542.0 433.5 L543.0 434.0 L544.0 425.3 L545.0 430.9 L546.0 432.8 L547.0 427.5 L548.0 436.6 L549.0 423.0 L550.0 416.6 L551.0 411.6 L552.0 425.8 L553.0 417.1 L554.0 421.4 L555.0 416.4 L556.0 421.3 L557.0 413.9 L558.0 406.0 L559.0 407.9 L560.0 410.8 L561.0 395.3 L562.0 409.3 L563.0 406.1 L564.0 402.9 L565.0 394.1 L566.0 395.4 L567.0 385.1 L568.0 390.4 L569.0 384.8 L570.0 387.1 L571.0 381.8 L572.0 384.8 L573.0 388.3 L574.0 371.6 L575.0 383.2 L576.0 363.8 L577.0 360.9 L578.0 371.3 L579.0 370.1 L580.0 370.7 L581.0 356.1 L582.0 363.5 L583.0 362.6 L584.0 367.2 L585.0 356.9 L586.0 358.5 L587.0 347.3 L588.0 349.8 L589.0 345.9 L590.0 350.5 L591.0 338.1 L592.0 336.6 L593.0 342.5 L594.0 347.1 L595.0 335.9 L596.0 332.7 L597.0 326.0 L598.0 331.8 L599.0 325.8 L600.0 330.4 L601.0 319.4 L602.0 309.4 L603.0 305.7 L604.0 305.1 L605.0 301.7 L606.0 315.2 L607.0 310.9 L608.0 297.1 L609.0 313.9 L610.0 303.3 L611.0 294.9 L612.0 301.7 L613.0 297.8 L614.0 292.4 L615.0 284.2 L616.0 294.8 L617.0 295.2 L618.0 276.7 L619.0 294.2 L620.0 293.2 L621.0 285.2 L622.0 287.2 L623.0 283.2 L624.0 278.1 L625.0 279.1 L626.0 287.3 L627.0 268.4 L628.0 276.4 L629.0 273.8 L630.0 266.1 L631.0 265.3 L632.0 257.1 L633.0 258.0 L634.0 260.7 L635.0 260.2 L636.0 250.4 L637.0 271.1 L638.0 246.8 L639.0 248.1 L640.0 243.1 L641.0 239.3 L642.0 246.9 L643.0 234.0 L644.0 243.0 L645.0 240.3 L646.0 225.7 L647.0 236.8 L648.0 225.3 L649.0 244.4 L650.0 224.6 L651.0 220.1 L652.0 213.3 L653.0 216.0 L654.0 219.3 L655.0 215.9 L656.0 213.6 L657.0 216.0 L658.0 218.2 L659.0 227.5 L660.0 207.9 L661.0 214.3 L662.0 211.3 L663.0 203.4 L664.0 204.8 L665.0 209.5 L666.0 218.3 L667.0 211.8 L668.0 208.4 L669.0 213.2 L670.0 208.7 L671.0 202.8 L672.0 203.2 L673.0 192.4 L674.0 197.5 L675.0 192.8 L676.0 183.9 L677.0 175.4 L678.0 188.5 L679.0 176.8 L680.0 191.5 L681.0 167.3 L682.0 174.6 L683.0 165.8 L684.0 169.5 L685.0 173.2 L686.0 163.9 L687.0 168.9 L688.0 171.4 L689.0 172.2 L690.0 176.1 L691.0 179.6 L692.0 179.3 L693.0 176.4 L694.0 172.9 L695.0 168.0 L696.0 169.6 L697.0 169.8 L698.0 175.7 L699.0 167.9 L700.0 155.9 L701.0 170.3 L702.0 159.9 L703.0 158.4 L704.0 160.0 L705.0 162.8 L706.0 144.5 L707.0 151.5 L708.0 159.1 L709.0 156.0 L710.0 153.4 L711.0 156.1 L712.0 168.6 L713.0 158.6 L714.0 166.7 L715.0 168.3 L716.0 162.0 L717.0 168.4 L718.0 163.9 L719.0 163.7 L720.0 161.1 L721.0 173.2 L722.0 165.5 L723.0 164.3 L724.0 160.4 L725.0 177.5 L726.0 170.4 L727.0 164.4 L728.0 160.3 L729.0 154.6 L730.0 164.8 L731.0 164.1 L732.0 153.4 L733.0 168.4 L734.0 165.8 L735.0 155.2 L736.0 157.7 L737.0 158.4 L738.0 162.0 L739.0 160.1 L740.0 151.2 L741.0 169.8 L742.0 158.3 L743.0 168.6 L744.0 168.5 L745.0 159.8 L746.0 162.9 L747.0 164.7 L748.0 164.1 L749.0 157.4 L750.0 153.3 L751.0 155.7 L752.0 148.9 L753.0 148.6 L754.0 137.8 L755.0 148.5 L756.0 139.2 L757.0 138.3 L758.0 136.9 L759.0 134.4 L760.0 139.3 L761.0 125.3 L762.0 112.5 L763.0 119.5 L764.0 113.2 L765.0 117.3 L766.0 109.2 L767.0 107.5 L768.0 107.3 L769.0 105.1 L770.0 96.4 L771.0 101.7 L772.0 103.9 L773.0 109.1 L774.0 97.6 L775.0 94.5 L776.0 97.6 L777.0 95.3 L778.0 100.1 L779.0 93.5 L780.0 90.1 L781.0 98.7 L782.0 100.6 L783.0 89.7 L784.0 94.8 L785.0 89.5 L786.0 94.8 L787.0 95.6 L788.0 106.5 L789.0 112.4 L790.0 120.5 L791.0 123.4 L792.0 125.5 L793.0 120.0 L794.0 110.0 L795.0 99.9 L796.0 109.8 L797.0 107.0 L798.0 94.3 L799.0 101.0 L800.0 90.2 L801.0 92.5 L802.0 103.3 L803.0 117.1 L804.0 105.3 L805.0 109.6 L806.0 126.6 L807.0 107.6 L808.0 124.8 L809.0 125.6 L810.0 123.2 L811.0 127.3 L812.0 143.5 L813.0 122.6 L814.0 129.0 L815.0 131.0 L816.0 129.9 L817.0 127.4 L818.0 146.5 L819.0 139.6 L820.0 129.1 L821.0 136.7 L822.0 144.7 L823.0 146.0 L824.0 136.4 L825.0 145.9 L826.0 149.6 L827.0 151.9 L828.0 153.6 L829.0 141.9 L830.0 165.6 L831.0 157.5 L832.0 168.9 L833.0 177.0 L834.0 160.8 L835.0 156.4 L836.0 171.0 L837.0 166.9 L838.0 167.7 L839.0 167.0 L840.0 186.3 L841.0 176.6 L842.0 173.9 L843.0 182.5 L844.0 180.9 L845.0 190.9 L846.0 189.3 L847.0 187.0 L848.0 198.4 L849.0 192.2 L850.0 201.7 L851.0 202.4 L852.0 198.1 L853.0 198.1 L854.0 205.3 L855.0 211.8 L856.0 209.1 L857.0 212.7 L858.0 214.4 L859.0 219.1 L860.0 223.5 L861.0 217.8 L862.0 221.0 L863.0 225.9 L864.0 223.3 L865.0 229.6 L866.0 233.4 L867.0 231.5 L868.0 229.6 L869.0 230.3 L870.0 247.4 L871.0 244.3 L872.0 234.9 L873.0 239.9 L874.0 260.1 L875.0 262.3 L876.0 258.6 L877.0 269.5 L878.0 258.1 L879.0 271.3 L880.0 279.4 L881.0 267.2 L882.0 276.7 L883.0 289.1 L884.0 294.0 L885.0 286.4 L886.0 294.4 L887.0 305.0 L888.0 295.8 L889.0 292.9 L890.0 303.4 L891.0 304.4 L892.0 317.8 L893.0 314.4 L894.0 312.2 L895.0 335.1 L896.0 321.5 L897.0 331.2 L898.0 336.3 L899.0 340.9 L900.0 341.2 L901.0 347.5 L902.0 347.5 L903.0 343.3 L904.0 354.4 L905.0 358.5 L906.0 362.6 L907.0 368.4 L908.0 367.7 L909.0 383.2 L910.0 388.4 L911.0 369.5 L912.0 386.4 L913.0 385.8 L914.0 378.1 L915.0 399.7 L916.0 397.1 L917.0 402.0 L918.0 403.8 L919.0 417.2 L920.0 421.2 L921.0 418.6 L922.0 423.9 L923.0 422.1 L924.0 426.3 L925.0 424.0 L926.0 431.2 L927.0 429.8 L928.0 438.6 L929.0 443.8 L930.0 443.6 L931.0 451.1 L932.0 462.0 L933.0 438.4 L934.0 452.9 L935.0 452.7 L936.0 456.3 L937.0 454.7 L938.0 465.7 L939.0 467.7 L940.0 469.6 L941.0 475.6 L942.0 477.9 L943.0 468.0 L944.0 494.6 L945.0 491.5 L946.0 492.2 L947.0 502.7 L948.0 502.1 L949.0 498.8 L950.0 518.0 L951.0 509.3 L952.0 519.9 L953.0 524.6 L954.0 529.9 L955.0 534.7 L956.0 531.9 L957.0 529.4 L958.0 532.8 L959.0 541.6 L960.0 546.5 L961.0 542.3 L962.0 538.4 L963.0 548.0 L964.0 543.3 L965.0 545.3 L966.0 548.2 L967.0 554.8 L968.0 556.3 L969.0 563.4 L970.0 569.9 L971.0 571.9 L972.0 564.6 L973.0 571.6 L974.0 583.0 L975.0 585.0 L976.0 597.3 L977.0 590.5 L978.0 592.5 L979.0 599.4 L980.0 602.1 L981.0 598.8 L982.0 603.9 L983.0 599.4 L984.0 602.4 L985.0 613.7 L986.0 605.3 L987.0 617.2 L988.0 618.7 L989.0 621.6 L990.0 624.7 L991.0 625.9 L992.0 617.8 L993.0 624.8 L994.0 628.9 L995.0 637.3 L996.0 631.8 L997.0 635.8 L998.0 639.4 L999.0 648.0 L1000.0 639.7 L1001.0 642.1 L1002.0 651.6 L1003.0 643.3 L1004.0 654.5 L1005.0 653.5 L1006.0 651.2 L1007.0 657.4 L1008.0 657.1 L1009.0 663.2 L1010.0 665.7 L1011.0 671.6 L1012.0 668.0 L1013.0 670.1 L1014.0 669.5 L1015.0 673.2 L1016.0 678.7 L1017.0 669.9 L1018.0 680.7 L1019.0 678.1 L1020.0 681.9 L1021.0 684.4 L1022.0 687.8 L1023.0 687.3 L1024.0 686.7 L1025.0 690.6 L1026.0 691.1 L1027.0 687.3 L1028.0 694.9 L1029.0 695.1 L1030.0 697.8 L1031.0 699.3 L1032.0 696.0 L1033.0 701.4 L1034.0 697.1 L1035.0 707.0 L1036.0 702.9 L1037.0 711.5 L1038.0 718.3 L1039.0 708.5 L1040.0 715.3 L1041.0 713.4 L1042.0 711.4 L1043.0 711.6 L1044.0 717.1 L1045.0 720.7 L1046.0 718.4 L1047.0 713.4 L1048.0 715.8 L1049.0 719.3 L1050.0 725.2 L1051.0 722.7 L1052.0 723.7 L1053.0 727.3 L1054.0 723.8 L1055.0 725.1 L1056.0 725.7 L1057.0 721.7 L1058.0 729.5 L1059.0 730.3 L1060.0 732.9 L1061.0 727.3 L1062.0 729.4 L1063.0 735.6 L1064.0 734.8 L1065.0 738.9 L1066.0 733.1 L1067.0 737.3 L1068.0 735.6 L1069.0 739.5 L1070.0 738.1 L1071.0 742.1 L1072.0 744.6 L1073.0 744.3 L1074.0 738.0 L1075.0 747.0 L1076.0 746.4 L1077.0 743.0 L1078.0 744.3 L1079.0 747.8 L1080.0 750.4 L1081.0 748.4 L1082.0 746.0 L1083.0 752.4 L1084.0 753.0 L1085.0 760.4 L1086.0 750.7 L1087.0 762.5 L1088.0 761.1 L1089.0 757.9 L1090.0 762.5 L1091.0 759.0 L1092.0 762.2 L1093.0 758.1 L1094.0 761.0 L1095.0 758.6 L1096.0 757.6 L1097.0 761.8 L1098.0 761.2 L1099.0 762.6 L1100.0 767.5 L1101.0 764.0 L1102.0 765.0 L1103.0 765.8 L1104.0 761.1 L1105.0 766.8 L1106.0 766.5 L1107.0 766.7 L1108.0 764.2 L1109.0 762.1 L1110.0 767.2 L1111.0 769.0 L1112.0 772.1 L1113.0 771.8 L1114.0 773.0 L1115.0 770.3 L1116.0 772.7 L1117.0 769.2 L1118.0 771.7 L1119.0 772.8 L1120.0 777.8 L1121.0 771.4 L1122.0 767.6 L1123.0 775.0 L1124.0 769.4 L1125.0 771.6 L1126.0 771.1 L1127.0 769.7 L1128.0 775.9 L1129.0 774.1 L1130.0 771.1 L1131.0 773.1 L1132.0 771.9 L1133.0 774.9 L1134.0 772.4 L1135.0 771.5 L1136.0 771.9 L1137.0 772.6 L1138.0 774.6 L1139.0 771.5 L1140.0 773.8 L1141.0 775.2 L1142.0 780.4 L1143.0 776.5 L1144.0 766.3 L1145.0 772.9 L1146.0 773.3 L1147.0 775.3 L1148.0 778.7 L1149.0 776.5 L1150.0 768.4 L1151.0 775.5 L1152.0 775.0 L1153.0 775.8 L1154.0 778.4 L1155.0 771.9 L1156.0 777.8 L1157.0 770.5 L1158.0 775.1 L1159.0 776.0 L1160.0 781.2 L1161.0 773.2 L1162.0 770.7 L1163.0 777.0 L1164.0 773.5 L1165.0 779.4 L1166.0 773.4 L1167.0 773.0 L1168.0 778.7 L1169.0 775.7 L1170.0 778.1 L1171.0 771.7 L1172.0 779.9 L1173.0 774.0 L1174.0 777.8 L1175.0 773.0 L1176.0 771.5 L1177.0 775.0 L1178.0 776.2 L1179.0 779.9 L1180.0 776.7 L1181.0 777.7 L1182.0 777.6 L1183.0 783.8 L1184.0 773.7 L1185.0 779.2 L1186.0 775.5 L1187.0 776.6 L1188.0 774.5 L1189.0 779.0 L1190.0 772.6 L1191.0 772.4 L1192.0 775.4 L1193.0 772.9 L1194.0 777.8 L1195.0 778.4 L1196.0 774.0 L1197.0 778.1 L1198.0 774.2 L1199.0 775.9 L1200.0 776.0 L1201.0 781.0 L1202.0 776.0 L1203.0 773.6 L1204.0 773.6 L1205.0 779.2 L1206.0 771.6 L1207.0 774.8 L1208.0 775.0 L1209.0 769.5 L1210.0 774.8 L1211.0 778.7 L1212.0 776.6 L1213.0 773.6 L1214.0 777.8 L1215.0 777.4 L1216.0 781.4 L1217.0 774.0 L1218.0 775.0 L1219.0 776.1 L1220.0 775.6 L1221.0 776.2 L1222.0 775.7 L1223.0 774.2 L1224.0 771.7 L1225.0 774.5 L1226.0 772.3 L1227.0 773.2 L1228.0 774.5 L1229.0 777.3 L1230.0 778.3 L1231.0 773.2 L1232.0 776.8 L1233.0 778.1 L1234.0 775.8 L1235.0 771.6 L1236.0 770.2 L1237.0 778.1 L1238.0 778.4 L1239.0 776.7 L1240.0 773.1 L1241.0 779.8 L1242.0 779.2 L1243.0 775.8 L1244.0 775.3 L1245.0 770.7 L1246.0 777.9 L1247.0 771.6 L1248.0 777.7 L1249.0 777.9 L1250.0 776.2 L1251.0 780.1 L1252.0 775.1 L1253.0 777.5 L1254.0 778.0 L1255.0 776.6 L1256.0 774.8 L1257.0 779.2 L1258.0 777.1 L1259.0 775.4 L1260.0 775.5 L1261.0 776.3 L1262.0 782.0 L1263.0 771.4 L1264.0 775.3 L1265.0 773.1 L1266.0 772.7 L1267.0 770.9 L1268.0 776.6 L1269.0 776.0 L1270.0 773.2 L1271.0 772.0 L1272.0 775.1 L1273.0 774.5 L1274.0 772.4 L1275.0 776.7 L1276.0 776.3 L1277.0 775.8 L1278.0 778.0" fill="none" stroke="#ff3a3a" stroke-width="7.0" stroke-linejoin="round" stroke-linecap="round"/>
<path d="M208.0 796.0 L209.0 784.8 L210.0 792.2 L211.0 789.8 L212.0 790.2 L213.0 790.9 L214.0 786.5 L215.0 791.0 L216.0 789.5 L217.0 799.1 L218.0 792.3 L219.0 791.0 L220.0 791.2 L221.0 790.3 L222.0 789.4 L223.0 791.1 L224.0 793.4 L225.0 791.6 L226.0 794.7 L227.0 791.9 L228.0 792.5 L229.0 796.3 L230.0 793.9 L231.0 791.3 L232.0 792.2 L233.0 794.0 L234.0 797.5 L235.0 792.1 L236.0 792.2 L237.0 795.3 L238.0 790.7 L239.0 792.2 L240.0 795.1 L241.0 794.3 L242.0 793.2 L243.0 794.6 L244.0 786.0 L245.0 795.5 L246.0 790.6 L247.0 788.9 L248.0 793.7 L249.0 794.7 L250.0 791.9 L251.0 790.3 L252.0 793.1 L253.0 792.9 L254.0 796.4 L255.0 794.8 L256.0 793.4 L257.0 795.7 L258.0 792.4 L259.0 790.7 L260.0 794.4 L261.0 794.4 L262.0 792.4 L263.0 791.0 L264.0 793.4 L265.0 786.7 L266.0 794.5 L267.0 794.0 L268.0 788.8 L269.0 792.9 L270.0 790.4 L271.0 794.6 L272.0 787.7 L273.0 790.5 L274.0 794.4 L275.0 795.5 L276.0 787.3 L277.0 791.4 L278.0 793.4 L279.0 791.1 L280.0 796.5 L281.0 789.6 L282.0 793.4 L283.0 789.9 L284.0 795.9 L285.0 792.3 L286.0 791.5 L287.0 788.1 L288.0 796.5 L289.0 794.1 L290.0 794.1 L291.0 795.0 L292.0 793.0 L293.0 790.6 L294.0 790.1 L295.0 790.1 L296.0 795.4 L297.0 788.4 L298.0 790.5 L299.0 791.1 L300.0 792.4 L301.0 793.2 L302.0 788.6 L303.0 787.3 L304.0 791.5 L305.0 794.4 L306.0 793.1 L307.0 791.7 L308.0 790.2 L309.0 791.6 L310.0 790.1 L311.0 792.5 L312.0 788.4 L313.0 790.5 L314.0 789.7 L315.0 791.2 L316.0 790.2 L317.0 795.7 L318.0 792.9 L319.0 792.7 L320.0 783.7 L321.0 787.7 L322.0 786.9 L323.0 789.5 L324.0 782.2 L325.0 790.6 L326.0 790.1 L327.0 784.0 L328.0 784.5 L329.0 784.8 L330.0 786.6 L331.0 787.9 L332.0 791.1 L333.0 785.3 L334.0 787.5 L335.0 785.7 L336.0 789.5 L337.0 786.7 L338.0 788.0 L339.0 781.7 L340.0 783.6 L341.0 781.9 L342.0 787.4 L343.0 785.1 L344.0 782.5 L345.0 781.9 L346.0 784.0 L347.0 780.8 L348.0 780.0 L349.0 783.4 L350.0 788.1 L351.0 781.1 L352.0 780.1 L353.0 778.4 L354.0 777.7 L355.0 782.2 L356.0 778.4 L357.0 780.5 L358.0 781.0 L359.0 780.3 L360.0 780.1 L361.0 775.6 L362.0 778.0 L363.0 779.2 L364.0 776.7 L365.0 777.1 L366.0 775.9 L367.0 776.9 L368.0 779.5 L369.0 776.0 L370.0 776.2 L371.0 778.3 L372.0 777.4 L373.0 779.6 L374.0 769.4 L375.0 776.4 L376.0 772.4 L377.0 773.4 L378.0 774.6 L379.0 774.6 L380.0 773.8 L381.0 770.9 L382.0 773.9 L383.0 768.3 L384.0 767.9 L385.0 769.6 L386.0 765.3 L387.0 771.6 L388.0 767.8 L389.0 770.0 L390.0 763.4 L391.0 761.6 L392.0 762.2 L393.0 762.8 L394.0 758.5 L395.0 760.1 L396.0 758.0 L397.0 761.2 L398.0 754.0 L399.0 757.4 L400.0 751.6 L401.0 749.5 L402.0 748.9 L403.0 746.4 L404.0 748.7 L405.0 749.9 L406.0 746.4 L407.0 746.6 L408.0 748.2 L409.0 743.4 L410.0 742.1 L411.0 739.7 L412.0 735.0 L413.0 737.8 L414.0 732.4 L415.0 737.9 L416.0 735.1 L417.0 737.2 L418.0 732.8 L419.0 729.7 L420.0 732.0 L421.0 728.4 L422.0 728.5 L423.0 728.2 L424.0 726.7 L425.0 725.6 L426.0 722.8 L427.0 723.7 L428.0 717.1 L429.0 721.7 L430.0 717.6 L431.0 723.0 L432.0 722.3 L433.0 712.0 L434.0 716.7 L435.0 714.7 L436.0 710.8 L437.0 714.0 L438.0 709.9 L439.0 704.8 L440.0 707.7 L441.0 706.7 L442.0 706.1 L443.0 700.8 L444.0 704.8 L445.0 703.7 L446.0 696.8 L447.0 696.8 L448.0 697.0 L449.0 694.1 L450.0 699.5 L451.0 693.4 L452.0 688.2 L453.0 687.3 L454.0 687.9 L455.0 693.3 L456.0 684.2 L457.0 683.4 L458.0 682.8 L459.0 679.3 L460.0 684.6 L461.0 674.2 L462.0 676.2 L463.0 672.4 L464.0 671.9 L465.0 664.3 L466.0 671.4 L467.0 663.5 L468.0 661.9 L469.0 656.7 L470.0 655.2 L471.0 657.0 L472.0 656.1 L473.0 653.1 L474.0 652.1 L475.0 648.0 L476.0 643.1 L477.0 643.0 L478.0 639.5 L479.0 634.5 L480.0 634.4 L481.0 633.5 L482.0 627.3 L483.0 622.7 L484.0 623.6 L485.0 625.0 L486.0 615.6 L487.0 613.7 L488.0 611.4 L489.0 611.0 L490.0 601.4 L491.0 606.8 L492.0 607.7 L493.0 598.9 L494.0 604.8 L495.0 599.7 L496.0 594.1 L497.0 594.8 L498.0 587.0 L499.0 588.5 L500.0 595.0 L501.0 583.7 L502.0 591.5 L503.0 582.9 L504.0 584.9 L505.0 579.8 L506.0 570.0 L507.0 574.2 L508.0 575.2 L509.0 568.7 L510.0 566.3 L511.0 570.7 L512.0 565.4 L513.0 559.9 L514.0 561.8 L515.0 565.7 L516.0 559.1 L517.0 562.4 L518.0 562.7 L519.0 555.4 L520.0 549.2 L521.0 546.6 L522.0 549.3 L523.0 550.7 L524.0 546.4 L525.0 545.5 L526.0 539.9 L527.0 540.7 L528.0 536.0 L529.0 534.7 L530.0 529.4 L531.0 526.6 L532.0 529.2 L533.0 525.4 L534.0 524.6 L535.0 529.5 L536.0 525.4 L537.0 535.8 L538.0 527.1 L539.0 520.1 L540.0 524.4 L541.0 518.1 L542.0 516.6 L543.0 522.2 L544.0 513.7 L545.0 503.7 L546.0 516.8 L547.0 509.6 L548.0 515.8 L549.0 505.0 L550.0 500.2 L551.0 508.0 L552.0 494.7 L553.0 496.7 L554.0 498.8 L555.0 490.8 L556.0 487.7 L557.0 486.3 L558.0 487.2 L559.0 478.7 L560.0 482.5 L561.0 480.5 L562.0 485.8 L563.0 473.3 L564.0 469.2 L565.0 474.3 L566.0 468.1 L567.0 469.3 L568.0 467.1 L569.0 469.8 L570.0 460.8 L571.0 461.6 L572.0 450.0 L573.0 455.5 L574.0 464.2 L575.0 453.7 L576.0 452.4 L577.0 449.1 L578.0 455.4 L579.0 452.6 L580.0 445.8 L581.0 452.4 L582.0 449.5 L583.0 450.5 L584.0 443.4 L585.0 452.2 L586.0 445.4 L587.0 441.9 L588.0 438.9 L589.0 438.6 L590.0 441.8 L591.0 435.5 L592.0 439.6 L593.0 435.7 L594.0 437.1 L595.0 432.7 L596.0 426.8 L597.0 416.5 L598.0 423.6 L599.0 423.3 L600.0 418.1 L601.0 417.3 L602.0 410.3 L603.0 408.1 L604.0 403.1 L605.0 410.8 L606.0 403.0 L607.0 397.8 L608.0 391.8 L609.0 394.7 L610.0 399.5 L611.0 392.9 L612.0 385.2 L613.0 392.6 L614.0 390.3 L615.0 386.1 L616.0 382.9 L617.0 379.6 L618.0 377.3 L619.0 376.1 L620.0 366.8 L621.0 375.1 L622.0 367.1 L623.0 373.2 L624.0 352.5 L625.0 363.1 L626.0 362.5 L627.0 354.5 L628.0 356.2 L629.0 355.6 L630.0 350.2 L631.0 345.6 L632.0 345.2 L633.0 348.2 L634.0 346.9 L635.0 338.7 L636.0 335.7 L637.0 333.2 L638.0 333.7 L639.0 320.6 L640.0 315.7 L641.0 318.6 L642.0 308.7 L643.0 306.3 L644.0 304.4 L645.0 301.2 L646.0 289.3 L647.0 293.7 L648.0 277.7 L649.0 284.0 L650.0 269.9 L651.0 267.3 L652.0 272.9 L653.0 265.9 L654.0 263.3 L655.0 260.5 L656.0 270.7 L657.0 269.8 L658.0 271.3 L659.0 277.4 L660.0 269.7 L661.0 270.3 L662.0 268.8 L663.0 274.7 L664.0 271.6 L665.0 270.5 L666.0 262.0 L667.0 254.4 L668.0 262.1 L669.0 254.6 L670.0 258.5 L671.0 256.2 L672.0 247.7 L673.0 248.2 L674.0 245.5 L675.0 250.6 L676.0 250.3 L677.0 233.1 L678.0 228.3 L679.0 212.2 L680.0 218.2 L681.0 212.0 L682.0 201.3 L683.0 203.1 L684.0 185.4 L685.0 185.2 L686.0 181.9 L687.0 172.6 L688.0 182.3 L689.0 185.9 L690.0 179.2 L691.0 184.6 L692.0 199.5 L693.0 201.5 L694.0 199.4 L695.0 205.9 L696.0 209.0 L697.0 210.9 L698.0 217.2 L699.0 216.5 L700.0 223.8 L701.0 222.3 L702.0 214.2 L703.0 203.5 L704.0 187.5 L705.0 165.9 L706.0 139.8 L707.0 136.8 L708.0 128.3 L709.0 137.0 L710.0 134.2 L711.0 142.4 L712.0 148.7 L713.0 162.5 L714.0 162.8 L715.0 166.7 L716.0 173.4 L717.0 172.8 L718.0 178.3 L719.0 179.8 L720.0 182.7 L721.0 190.8 L722.0 179.9 L723.0 181.4 L724.0 179.5 L725.0 182.7 L726.0 173.4 L727.0 175.0 L728.0 177.8 L729.0 181.0 L730.0 179.4 L731.0 179.0 L732.0 179.3 L733.0 187.5 L734.0 193.5 L735.0 189.5 L736.0 189.6 L737.0 191.3 L738.0 185.4 L739.0 188.7 L740.0 189.4 L741.0 192.6 L742.0 191.9 L743.0 187.9 L744.0 201.0 L745.0 202.2 L746.0 200.0 L747.0 205.3 L748.0 206.0 L749.0 208.2 L750.0 195.2 L751.0 204.7 L752.0 189.2 L753.0 190.5 L754.0 178.4 L755.0 170.2 L756.0 165.5 L757.0 163.7 L758.0 148.8 L759.0 144.4 L760.0 137.8 L761.0 127.0 L762.0 137.0 L763.0 130.9 L764.0 125.9 L765.0 129.4 L766.0 117.9 L767.0 120.4 L768.0 127.1 L769.0 121.9 L770.0 105.2 L771.0 94.9 L772.0 104.8 L773.0 110.0 L774.0 98.1 L775.0 94.9 L776.0 95.3 L777.0 89.5 L778.0 91.6 L779.0 94.0 L780.0 92.3 L781.0 91.9 L782.0 89.5 L783.0 95.0 L784.0 97.5 L785.0 114.9 L786.0 130.9 L787.0 125.1 L788.0 125.3 L789.0 136.0 L790.0 139.7 L791.0 142.8 L792.0 143.0 L793.0 134.4 L794.0 134.4 L795.0 143.8 L796.0 133.0 L797.0 143.5 L798.0 138.7 L799.0 145.2 L800.0 147.3 L801.0 150.4 L802.0 153.5 L803.0 148.1 L804.0 156.8 L805.0 158.1 L806.0 161.7 L807.0 168.3 L808.0 163.8 L809.0 164.2 L810.0 166.6 L811.0 171.0 L812.0 178.5 L813.0 174.0 L814.0 185.9 L815.0 184.8 L816.0 185.4 L817.0 183.2 L818.0 193.1 L819.0 197.7 L820.0 188.9 L821.0 204.8 L822.0 209.2 L823.0 205.6 L824.0 208.7 L825.0 220.1 L826.0 217.5 L827.0 210.9 L828.0 218.2 L829.0 220.8 L830.0 223.8 L831.0 216.2 L832.0 232.5 L833.0 227.5 L834.0 232.3 L835.0 231.9 L836.0 237.3 L837.0 232.7 L838.0 231.1 L839.0 238.0 L840.0 242.8 L841.0 235.9 L842.0 244.9 L843.0 241.2 L844.0 239.5 L845.0 251.7 L846.0 244.2 L847.0 256.4 L848.0 253.5 L849.0 262.2 L850.0 258.8 L851.0 265.0 L852.0 277.9 L853.0 277.9 L854.0 281.4 L855.0 283.6 L856.0 292.2 L857.0 288.2 L858.0 293.9 L859.0 302.4 L860.0 303.0 L861.0 306.8 L862.0 312.4 L863.0 314.6 L864.0 316.6 L865.0 327.4 L866.0 326.3 L867.0 329.2 L868.0 325.2 L869.0 324.8 L870.0 322.2 L871.0 329.1 L872.0 323.0 L873.0 331.8 L874.0 340.1 L875.0 346.3 L876.0 345.7 L877.0 340.0 L878.0 349.4 L879.0 347.0 L880.0 358.4 L881.0 358.3 L882.0 367.0 L883.0 379.2 L884.0 375.7 L885.0 386.1 L886.0 379.8 L887.0 380.8 L888.0 391.5 L889.0 396.3 L890.0 389.0 L891.0 394.8 L892.0 390.9 L893.0 399.2 L894.0 406.8 L895.0 405.3 L896.0 405.9 L897.0 405.0 L898.0 415.6 L899.0 420.3 L900.0 422.1 L901.0 423.3 L902.0 419.3 L903.0 435.0 L904.0 429.9 L905.0 432.2 L906.0 438.6 L907.0 429.0 L908.0 440.7 L909.0 443.3 L910.0 448.5 L911.0 455.7 L912.0 455.2 L913.0 448.9 L914.0 458.5 L915.0 464.1 L916.0 467.3 L917.0 464.9 L918.0 466.8 L919.0 479.2 L920.0 481.8 L921.0 483.8 L922.0 480.5 L923.0 497.9 L924.0 482.9 L925.0 496.4 L926.0 509.5 L927.0 504.1 L928.0 508.9 L929.0 506.7 L930.0 519.7 L931.0 512.7 L932.0 521.9 L933.0 524.5 L934.0 523.1 L935.0 533.5 L936.0 527.8 L937.0 533.6 L938.0 538.9 L939.0 540.2 L940.0 546.2 L941.0 550.5 L942.0 548.6 L943.0 550.3 L944.0 553.1 L945.0 556.4 L946.0 563.5 L947.0 562.7 L948.0 567.8 L949.0 568.9 L950.0 569.1 L951.0 578.1 L952.0 574.3 L953.0 580.8 L954.0 588.8 L955.0 582.5 L956.0 588.8 L957.0 586.1 L958.0 592.5 L959.0 591.6 L960.0 598.1 L961.0 600.0 L962.0 604.8 L963.0 612.2 L964.0 610.2 L965.0 613.8 L966.0 613.8 L967.0 615.5 L968.0 615.9 L969.0 615.0 L970.0 623.5 L971.0 630.9 L972.0 629.3 L973.0 628.2 L974.0 637.5 L975.0 632.9 L976.0 634.4 L977.0 634.6 L978.0 637.6 L979.0 642.0 L980.0 651.3 L981.0 646.3 L982.0 645.7 L983.0 649.1 L984.0 652.4 L985.0 649.8 L986.0 657.6 L987.0 661.4 L988.0 662.3 L989.0 665.1 L990.0 661.3 L991.0 662.0 L992.0 673.2 L993.0 674.5 L994.0 668.4 L995.0 675.6 L996.0 677.0 L997.0 680.5 L998.0 681.4 L999.0 681.1 L1000.0 685.1 L1001.0 686.9 L1002.0 688.1 L1003.0 684.6 L1004.0 683.0 L1005.0 691.3 L1006.0 690.5 L1007.0 697.7 L1008.0 700.7 L1009.0 701.0 L1010.0 700.7 L1011.0 703.6 L1012.0 708.3 L1013.0 704.4 L1014.0 710.6 L1015.0 711.4 L1016.0 711.6 L1017.0 716.4 L1018.0 711.5 L1019.0 717.5 L1020.0 713.4 L1021.0 715.0 L1022.0 715.3 L1023.0 720.6 L1024.0 717.8 L1025.0 721.6 L1026.0 719.2 L1027.0 726.4 L1028.0 729.5 L1029.0 725.9 L1030.0 730.8 L1031.0 728.7 L1032.0 734.1 L1033.0 729.3 L1034.0 725.6 L1035.0 735.0 L1036.0 731.4 L1037.0 729.8 L1038.0 731.7 L1039.0 729.9 L1040.0 734.8 L1041.0 733.2 L1042.0 741.1 L1043.0 739.7 L1044.0 734.1 L1045.0 735.3 L1046.0 738.7 L1047.0 735.8 L1048.0 741.5 L1049.0 742.4 L1050.0 741.2 L1051.0 742.6 L1052.0 746.2 L1053.0 749.4 L1054.0 750.4 L1055.0 747.2 L1056.0 750.2 L1057.0 746.7 L1058.0 750.6 L1059.0 747.8 L1060.0 753.1 L1061.0 748.7 L1062.0 750.3 L1063.0 753.8 L1064.0 756.2 L1065.0 751.9 L1066.0 755.2 L1067.0 758.0 L1068.0 759.2 L1069.0 757.4 L1070.0 760.9 L1071.0 760.9 L1072.0 766.2 L1073.0 765.0 L1074.0 761.0 L1075.0 759.6 L1076.0 766.4 L1077.0 770.1 L1078.0 768.2 L1079.0 770.9 L1080.0 768.1 L1081.0 766.6 L1082.0 772.8 L1083.0 771.9 L1084.0 774.2 L1085.0 769.6 L1086.0 774.3 L1087.0 773.0 L1088.0 777.3 L1089.0 774.4 L1090.0 775.0 L1091.0 775.7 L1092.0 781.0 L1093.0 778.5 L1094.0 777.0 L1095.0 776.9 L1096.0 777.4 L1097.0 784.2 L1098.0 776.4 L1099.0 779.3 L1100.0 783.5 L1101.0 785.3 L1102.0 782.5 L1103.0 785.2 L1104.0 785.6 L1105.0 786.6 L1106.0 784.6 L1107.0 789.0 L1108.0 785.8 L1109.0 789.5 L1110.0 783.2 L1111.0 788.6 L1112.0 783.4 L1113.0 783.1 L1114.0 788.3 L1115.0 785.2 L1116.0 788.6 L1117.0 785.1 L1118.0 791.9 L1119.0 788.2 L1120.0 785.5 L1121.0 788.9 L1122.0 790.9 L1123.0 786.9 L1124.0 790.3 L1125.0 794.3 L1126.0 791.5 L1127.0 789.4 L1128.0 788.2 L1129.0 791.2 L1130.0 786.1 L1131.0 782.4 L1132.0 788.4 L1133.0 787.5 L1134.0 794.5 L1135.0 790.7 L1136.0 787.9 L1137.0 787.6 L1138.0 791.8 L1139.0 788.6 L1140.0 789.3 L1141.0 790.6 L1142.0 791.1 L1143.0 791.2 L1144.0 791.3 L1145.0 794.3 L1146.0 795.4 L1147.0 787.1 L1148.0 797.6 L1149.0 791.7 L1150.0 794.5 L1151.0 789.6 L1152.0 792.3 L1153.0 792.1 L1154.0 791.9 L1155.0 793.8 L1156.0 793.3 L1157.0 789.3 L1158.0 791.5 L1159.0 793.7 L1160.0 793.6 L1161.0 791.1 L1162.0 791.3 L1163.0 791.6 L1164.0 789.3 L1165.0 788.9 L1166.0 796.0 L1167.0 791.1 L1168.0 792.4 L1169.0 787.5 L1170.0 795.4 L1171.0 796.5 L1172.0 791.7 L1173.0 793.5 L1174.0 790.4 L1175.0 796.6 L1176.0 794.6 L1177.0 790.2 L1178.0 795.4 L1179.0 793.2 L1180.0 793.4 L1181.0 793.3 L1182.0 790.7 L1183.0 791.1 L1184.0 794.0 L1185.0 792.3 L1186.0 790.1 L1187.0 797.5 L1188.0 792.0 L1189.0 791.1 L1190.0 790.8 L1191.0 794.2 L1192.0 794.9 L1193.0 793.1 L1194.0 794.7 L1195.0 788.9 L1196.0 791.7 L1197.0 791.4 L1198.0 792.6 L1199.0 793.8 L1200.0 787.6 L1201.0 799.9 L1202.0 790.5 L1203.0 793.5 L1204.0 794.7 L1205.0 794.8 L1206.0 793.3 L1207.0 785.5 L1208.0 790.0 L1209.0 794.6 L1210.0 790.5 L1211.0 790.1 L1212.0 786.9 L1213.0 793.1 L1214.0 794.0 L1215.0 790.6 L1216.0 792.4 L1217.0 792.5 L1218.0 790.0 L1219.0 789.0 L1220.0 793.4 L1221.0 794.2 L1222.0 795.9 L1223.0 792.9 L1224.0 791.7 L1225.0 793.8 L1226.0 791.3 L1227.0 789.7 L1228.0 795.6 L1229.0 791.9 L1230.0 793.1 L1231.0 794.5 L1232.0 790.1 L1233.0 794.4 L1234.0 794.0 L1235.0 792.6 L1236.0 793.9 L1237.0 791.0 L1238.0 787.5 L1239.0 792.2 L1240.0 790.7 L1241.0 795.1 L1242.0 793.6 L1243.0 791.6 L1244.0 793.1 L1245.0 796.3 L1246.0 795.7 L1247.0 793.9 L1248.0 794.0 L1249.0 792.3 L1250.0 792.7 L1251.0 794.4 L1252.0 792.7 L1253.0 793.7 L1254.0 790.2 L1255.0 788.9 L1256.0 788.8 L1257.0 791.9 L1258.0 796.3 L1259.0 795.9 L1260.0 790.6 L1261.0 789.2 L1262.0 795.0 L1263.0 794.2 L1264.0 789.6 L1265.0 795.6 L1266.0 793.5 L1267.0 796.3 L1268.0 793.9 L1269.0 795.2 L1270.0 793.8 L1271.0 790.7 L1272.0 792.5 L1273.0 791.4 L1274.0 795.1 L1275.0 790.6 L1276.0 789.3 L1277.0 794.7 L1278.0 795.9" fill="none" stroke="#0064e1" stroke-width="7.0" stroke-linejoin="round" stroke-linecap="round"/>
<path d="M208.0 773.4 L209.0 776.0 L210.0 786.1 L211.0 780.6 L212.0 767.8 L213.0 776.8 L214.0 773.4 L215.0 777.6 L216.0 767.9 L217.0 778.1 L218.0 778.0 L219.0 785.4 L220.0 778.4 L221.0 779.5 L222.0 768.4 L223.0 789.0 L224.0 766.0 L225.0 782.6 L226.0 774.7 L227.0 771.6 L228.0 772.9 L229.0 772.7 L230.0 778.5 L231.0 775.8 L232.0 784.5 L233.0 766.3 L234.0 776.3 L235.0 771.4 L236.0 780.6 L237.0 764.6 L238.0 771.3 L239.0 777.4 L240.0 768.0 L241.0 781.6 L242.0 777.1 L243.0 781.7 L244.0 781.4 L245.0 770.7 L246.0 771.6 L247.0 774.9 L248.0 780.1 L249.0 780.7 L250.0 772.0 L251.0 772.6 L252.0 771.5 L253.0 772.7 L254.0 774.6 L255.0 775.1 L256.0 787.2 L257.0 773.0 L258.0 774.2 L259.0 778.3 L260.0 765.3 L261.0 773.7 L262.0 775.8 L263.0 780.0 L264.0 763.0 L265.0 783.2 L266.0 773.7 L267.0 776.6 L268.0 780.3 L269.0 779.3 L270.0 781.4 L271.0 776.5 L272.0 775.5 L273.0 777.3 L274.0 770.0 L275.0 782.2 L276.0 771.2 L277.0 768.5 L278.0 786.8 L279.0 774.7 L280.0 768.9 L281.0 785.6 L282.0 773.6 L283.0 781.2 L284.0 765.0 L285.0 773.9 L286.0 766.0 L287.0 764.8 L288.0 769.9 L289.0 774.8 L290.0 779.6 L291.0 788.5 L292.0 769.5 L293.0 780.7 L294.0 771.8 L295.0 774.2 L296.0 766.9 L297.0 766.9 L298.0 770.7 L299.0 768.4 L300.0 774.9 L301.0 771.0 L302.0 781.7 L303.0 775.6 L304.0 775.6 L305.0 780.9 L306.0 777.5 L307.0 774.4 L308.0 774.0 L309.0 773.8 L310.0 780.4 L311.0 778.7 L312.0 776.3 L313.0 778.7 L314.0 771.2 L315.0 777.0 L316.0 766.3 L317.0 781.4 L318.0 774.4 L319.0 774.9 L320.0 777.1 L321.0 773.7 L322.0 772.3 L323.0 780.2 L324.0 774.2 L325.0 768.4 L326.0 775.8 L327.0 763.9 L328.0 782.4 L329.0 772.2 L330.0 773.4 L331.0 785.5 L332.0 784.8 L333.0 773.5 L334.0 776.3 L335.0 778.7 L336.0 781.9 L337.0 771.9 L338.0 773.3 L339.0 779.2 L340.0 773.8 L341.0 776.4 L342.0 775.6 L343.0 765.9 L344.0 767.4 L345.0 757.5 L346.0 770.5 L347.0 779.2 L348.0 765.7 L349.0 778.5 L350.0 777.1 L351.0 771.3 L352.0 771.5 L353.0 771.9 L354.0 766.6 L355.0 769.7 L356.0 770.9 L357.0 774.5 L358.0 775.4 L359.0 766.9 L360.0 775.4 L361.0 766.5 L362.0 769.8 L363.0 772.6 L364.0 770.4 L365.0 769.7 L366.0 771.8 L367.0 767.2 L368.0 766.5 L369.0 768.9 L370.0 775.2 L371.0 769.2 L372.0 780.1 L373.0 770.7 L374.0 753.1 L375.0 766.9 L376.0 778.3 L377.0 769.0 L378.0 766.4 L379.0 763.9 L380.0 775.8 L381.0 773.9 L382.0 771.9 L383.0 770.4 L384.0 775.8 L385.0 772.2 L386.0 757.6 L387.0 771.6 L388.0 768.1 L389.0 766.4 L390.0 771.0 L391.0 766.8 L392.0 750.3 L393.0 774.7 L394.0 771.7 L395.0 765.1 L396.0 763.5 L397.0 766.6 L398.0 758.1 L399.0 766.6 L400.0 763.4 L401.0 762.5 L402.0 759.2 L403.0 760.2 L404.0 769.8 L405.0 770.7 L406.0 765.9 L407.0 762.6 L408.0 757.8 L409.0 766.2 L410.0 770.8 L411.0 752.8 L412.0 767.7 L413.0 749.1 L414.0 758.7 L415.0 762.3 L416.0 752.4 L417.0 751.1 L418.0 760.0 L419.0 763.3 L420.0 755.4 L421.0 764.8 L422.0 752.6 L423.0 765.7 L424.0 756.1 L425.0 755.9 L426.0 757.2 L427.0 754.8 L428.0 762.2 L429.0 763.3 L430.0 753.4 L431.0 743.9 L432.0 742.2 L433.0 743.6 L434.0 746.8 L435.0 745.3 L436.0 744.7 L437.0 744.1 L438.0 745.9 L439.0 735.1 L440.0 736.0 L441.0 746.8 L442.0 744.5 L443.0 736.4 L444.0 745.6 L445.0 734.2 L446.0 735.8 L447.0 726.7 L448.0 740.4 L449.0 735.1 L450.0 740.3 L451.0 737.6 L452.0 733.7 L453.0 733.3 L454.0 738.2 L455.0 730.2 L456.0 729.5 L457.0 730.0 L458.0 733.2 L459.0 733.1 L460.0 737.7 L461.0 726.3 L462.0 732.8 L463.0 721.8 L464.0 722.3 L465.0 724.4 L466.0 732.2 L467.0 725.3 L468.0 718.8 L469.0 723.3 L470.0 721.1 L471.0 716.5 L472.0 715.4 L473.0 706.5 L474.0 729.0 L475.0 713.7 L476.0 716.7 L477.0 703.8 L478.0 696.9 L479.0 706.1 L480.0 704.6 L481.0 708.1 L482.0 697.1 L483.0 703.8 L484.0 707.6 L485.0 693.4 L486.0 701.8 L487.0 690.7 L488.0 696.4 L489.0 695.2 L490.0 701.3 L491.0 683.6 L492.0 690.7 L493.0 694.1 L494.0 681.4 L495.0 686.3 L496.0 680.7 L497.0 680.4 L498.0 686.5 L499.0 685.4 L500.0 694.1 L501.0 686.6 L502.0 685.0 L503.0 676.2 L504.0 674.3 L505.0 675.3 L506.0 661.5 L507.0 680.6 L508.0 667.2 L509.0 660.2 L510.0 665.8 L511.0 671.4 L512.0 672.1 L513.0 662.5 L514.0 665.6 L515.0 661.9 L516.0 656.0 L517.0 661.0 L518.0 659.4 L519.0 650.4 L520.0 663.1 L521.0 648.5 L522.0 657.0 L523.0 649.6 L524.0 650.0 L525.0 649.8 L526.0 656.3 L527.0 645.5 L528.0 650.2 L529.0 658.4 L530.0 646.1 L531.0 648.7 L532.0 651.5 L533.0 644.3 L534.0 648.9 L535.0 642.3 L536.0 648.5 L537.0 644.5 L538.0 638.6 L539.0 649.8 L540.0 641.3 L541.0 639.6 L542.0 635.5 L543.0 637.0 L544.0 638.1 L545.0 638.6 L546.0 642.5 L547.0 629.4 L548.0 633.4 L549.0 640.4 L550.0 634.4 L551.0 634.7 L552.0 639.9 L553.0 632.7 L554.0 632.5 L555.0 623.7 L556.0 637.2 L557.0 632.7 L558.0 622.8 L559.0 628.2 L560.0 618.7 L561.0 628.9 L562.0 625.7 L563.0 620.4 L564.0 618.0 L565.0 609.7 L566.0 621.0 L567.0 614.9 L568.0 612.1 L569.0 615.4 L570.0 606.7 L571.0 605.3 L572.0 603.1 L573.0 598.4 L574.0 615.9 L575.0 602.0 L576.0 600.6 L577.0 606.2 L578.0 586.3 L579.0 600.6 L580.0 600.4 L581.0 595.1 L582.0 601.8 L583.0 589.1 L584.0 598.8 L585.0 602.8 L586.0 586.9 L587.0 590.3 L588.0 596.1 L589.0 596.2 L590.0 592.4 L591.0 596.6 L592.0 595.0 L593.0 586.0 L594.0 591.0 L595.0 583.8 L596.0 578.5 L597.0 575.3 L598.0 590.8 L599.0 583.5 L600.0 592.1 L601.0 573.7 L602.0 577.5 L603.0 579.3 L604.0 575.4 L605.0 577.0 L606.0 573.8 L607.0 568.7 L608.0 559.0 L609.0 564.6 L610.0 576.5 L611.0 570.8 L612.0 572.9 L613.0 562.4 L614.0 563.5 L615.0 559.3 L616.0 561.3 L617.0 562.1 L618.0 563.1 L619.0 568.4 L620.0 554.8 L621.0 557.7 L622.0 549.6 L623.0 560.3 L624.0 551.4 L625.0 551.6 L626.0 550.9 L627.0 556.3 L628.0 546.3 L629.0 542.0 L630.0 536.6 L631.0 541.3 L632.0 533.5 L633.0 532.7 L634.0 532.3 L635.0 532.7 L636.0 523.0 L637.0 526.0 L638.0 527.3 L639.0 507.8 L640.0 516.7 L641.0 515.5 L642.0 496.8 L643.0 495.2 L644.0 478.1 L645.0 478.1 L646.0 467.8 L647.0 464.8 L648.0 454.1 L649.0 449.4 L650.0 446.2 L651.0 441.0 L652.0 438.7 L653.0 439.5 L654.0 435.6 L655.0 440.4 L656.0 443.8 L657.0 432.1 L658.0 444.2 L659.0 440.7 L660.0 439.7 L661.0 439.1 L662.0 441.5 L663.0 439.7 L664.0 439.0 L665.0 424.6 L666.0 427.9 L667.0 414.7 L668.0 418.3 L669.0 417.9 L670.0 405.9 L671.0 414.3 L672.0 417.2 L673.0 398.4 L674.0 404.0 L675.0 394.5 L676.0 385.8 L677.0 373.8 L678.0 360.7 L679.0 352.2 L680.0 338.3 L681.0 320.2 L682.0 313.0 L683.0 297.2 L684.0 280.2 L685.0 259.9 L686.0 258.2 L687.0 249.0 L688.0 235.2 L689.0 243.7 L690.0 253.8 L691.0 268.9 L692.0 280.1 L693.0 284.1 L694.0 300.5 L695.0 318.4 L696.0 324.6 L697.0 341.7 L698.0 338.6 L699.0 329.9 L700.0 309.4 L701.0 280.0 L702.0 254.1 L703.0 232.1 L704.0 198.9 L705.0 162.3 L706.0 141.8 L707.0 120.6 L708.0 103.2 L709.0 95.0 L710.0 89.3 L711.0 90.7 L712.0 110.2 L713.0 132.0 L714.0 160.9 L715.0 184.7 L716.0 214.1 L717.0 252.3 L718.0 272.2 L719.0 282.7 L720.0 280.9 L721.0 287.6 L722.0 287.6 L723.0 287.3 L724.0 299.6 L725.0 304.4 L726.0 302.1 L727.0 301.3 L728.0 308.4 L729.0 309.7 L730.0 310.1 L731.0 316.0 L732.0 318.8 L733.0 320.9 L734.0 332.6 L735.0 328.2 L736.0 332.0 L737.0 340.5 L738.0 338.1 L739.0 339.5 L740.0 343.8 L741.0 352.5 L742.0 355.5 L743.0 359.3 L744.0 362.3 L745.0 368.9 L746.0 385.8 L747.0 383.4 L748.0 393.5 L749.0 388.5 L750.0 387.1 L751.0 378.7 L752.0 372.8 L753.0 343.0 L754.0 349.1 L755.0 330.4 L756.0 327.9 L757.0 323.1 L758.0 310.0 L759.0 306.6 L760.0 303.0 L761.0 294.9 L762.0 287.1 L763.0 285.9 L764.0 281.0 L765.0 270.3 L766.0 277.5 L767.0 268.8 L768.0 254.1 L769.0 255.9 L770.0 260.5 L771.0 253.8 L772.0 242.6 L773.0 229.8 L774.0 231.6 L775.0 235.2 L776.0 234.1 L777.0 235.1 L778.0 239.0 L779.0 251.6 L780.0 254.6 L781.0 263.5 L782.0 272.5 L783.0 286.9 L784.0 291.3 L785.0 301.4 L786.0 301.4 L787.0 320.9 L788.0 327.2 L789.0 330.3 L790.0 327.1 L791.0 339.9 L792.0 348.1 L793.0 361.8 L794.0 360.2 L795.0 365.3 L796.0 368.7 L797.0 373.3 L798.0 364.6 L799.0 367.4 L800.0 367.8 L801.0 373.9 L802.0 376.9 L803.0 383.0 L804.0 383.0 L805.0 392.9 L806.0 394.0 L807.0 412.0 L808.0 404.9 L809.0 422.2 L810.0 421.7 L811.0 412.6 L812.0 425.4 L813.0 427.0 L814.0 420.4 L815.0 432.8 L816.0 432.3 L817.0 436.6 L818.0 433.4 L819.0 438.9 L820.0 442.9 L821.0 442.0 L822.0 441.8 L823.0 445.7 L824.0 444.1 L825.0 452.4 L826.0 436.9 L827.0 463.4 L828.0 460.1 L829.0 465.3 L830.0 470.3 L831.0 463.9 L832.0 483.0 L833.0 470.0 L834.0 479.6 L835.0 481.2 L836.0 487.9 L837.0 480.3 L838.0 479.4 L839.0 489.4 L840.0 478.3 L841.0 490.6 L842.0 491.2 L843.0 502.3 L844.0 495.3 L845.0 496.1 L846.0 496.1 L847.0 497.1 L848.0 499.9 L849.0 506.6 L850.0 498.8 L851.0 505.3 L852.0 500.5 L853.0 507.8 L854.0 510.5 L855.0 505.1 L856.0 509.4 L857.0 513.8 L858.0 518.2 L859.0 520.3 L860.0 516.5 L861.0 513.6 L862.0 511.9 L863.0 524.5 L864.0 528.7 L865.0 525.1 L866.0 532.0 L867.0 523.7 L868.0 525.3 L869.0 536.0 L870.0 525.0 L871.0 534.1 L872.0 534.4 L873.0 534.8 L874.0 543.8 L875.0 532.8 L876.0 536.5 L877.0 525.7 L878.0 536.8 L879.0 541.1 L880.0 543.5 L881.0 546.2 L882.0 550.5 L883.0 547.7 L884.0 543.1 L885.0 555.3 L886.0 558.5 L887.0 552.6 L888.0 556.2 L889.0 570.3 L890.0 568.5 L891.0 570.5 L892.0 570.1 L893.0 569.2 L894.0 567.7 L895.0 574.7 L896.0 572.6 L897.0 573.2 L898.0 577.0 L899.0 578.5 L900.0 585.1 L901.0 577.8 L902.0 596.8 L903.0 581.4 L904.0 586.3 L905.0 595.1 L906.0 588.4 L907.0 592.2 L908.0 596.8 L909.0 583.9 L910.0 598.3 L911.0 598.1 L912.0 603.7 L913.0 609.5 L914.0 612.2 L915.0 618.5 L916.0 620.2 L917.0 620.1 L918.0 616.6 L919.0 624.0 L920.0 615.6 L921.0 622.0 L922.0 631.8 L923.0 630.4 L924.0 621.3 L925.0 627.4 L926.0 637.0 L927.0 637.6 L928.0 642.1 L929.0 629.6 L930.0 634.4 L931.0 641.8 L932.0 635.2 L933.0 647.3 L934.0 649.7 L935.0 653.6 L936.0 653.3 L937.0 659.0 L938.0 662.2 L939.0 661.1 L940.0 656.1 L941.0 671.3 L942.0 663.6 L943.0 671.1 L944.0 671.8 L945.0 664.5 L946.0 677.9 L947.0 673.3 L948.0 672.0 L949.0 686.9 L950.0 680.2 L951.0 685.0 L952.0 689.7 L953.0 691.3 L954.0 678.6 L955.0 681.1 L956.0 694.6 L957.0 688.9 L958.0 677.9 L959.0 695.9 L960.0 697.6 L961.0 701.8 L962.0 700.0 L963.0 697.5 L964.0 702.1 L965.0 701.9 L966.0 700.4 L967.0 705.5 L968.0 707.0 L969.0 700.6 L970.0 712.5 L971.0 712.3 L972.0 713.0 L973.0 695.1 L974.0 711.3 L975.0 710.8 L976.0 707.0 L977.0 716.3 L978.0 705.9 L979.0 721.4 L980.0 717.6 L981.0 713.6 L982.0 724.7 L983.0 720.3 L984.0 720.4 L985.0 712.3 L986.0 722.9 L987.0 728.4 L988.0 727.4 L989.0 715.3 L990.0 730.4 L991.0 732.2 L992.0 728.8 L993.0 722.8 L994.0 717.5 L995.0 721.3 L996.0 723.8 L997.0 729.1 L998.0 731.2 L999.0 725.0 L1000.0 720.9 L1001.0 728.2 L1002.0 724.1 L1003.0 739.3 L1004.0 726.2 L1005.0 736.3 L1006.0 739.0 L1007.0 730.0 L1008.0 741.5 L1009.0 736.0 L1010.0 733.2 L1011.0 733.0 L1012.0 739.4 L1013.0 745.2 L1014.0 729.5 L1015.0 738.2 L1016.0 739.9 L1017.0 737.1 L1018.0 741.0 L1019.0 742.0 L1020.0 742.1 L1021.0 747.3 L1022.0 738.5 L1023.0 754.7 L1024.0 749.3 L1025.0 741.8 L1026.0 735.2 L1027.0 746.4 L1028.0 745.1 L1029.0 752.3 L1030.0 753.1 L1031.0 760.5 L1032.0 750.3 L1033.0 756.2 L1034.0 750.4 L1035.0 751.5 L1036.0 762.7 L1037.0 754.1 L1038.0 754.9 L1039.0 754.1 L1040.0 758.5 L1041.0 760.5 L1042.0 757.2 L1043.0 752.1 L1044.0 760.8 L1045.0 754.9 L1046.0 758.0 L1047.0 761.7 L1048.0 762.3 L1049.0 748.6 L1050.0 771.3 L1051.0 766.7 L1052.0 773.4 L1053.0 777.0 L1054.0 758.3 L1055.0 760.7 L1056.0 765.5 L1057.0 769.6 L1058.0 761.9 L1059.0 763.2 L1060.0 771.1 L1061.0 760.4 L1062.0 766.7 L1063.0 771.7 L1064.0 764.4 L1065.0 770.3 L1066.0 765.5 L1067.0 757.4 L1068.0 763.3 L1069.0 765.3 L1070.0 764.7 L1071.0 766.8 L1072.0 769.0 L1073.0 768.5 L1074.0 768.0 L1075.0 764.8 L1076.0 766.2 L1077.0 765.5 L1078.0 764.5 L1079.0 775.6 L1080.0 757.8 L1081.0 769.9 L1082.0 759.8 L1083.0 765.9 L1084.0 774.0 L1085.0 768.3 L1086.0 778.0 L1087.0 765.3 L1088.0 769.3 L1089.0 767.8 L1090.0 771.6 L1091.0 770.1 L1092.0 770.1 L1093.0 772.9 L1094.0 778.8 L1095.0 773.7 L1096.0 773.3 L1097.0 771.5 L1098.0 769.3 L1099.0 765.4 L1100.0 767.7 L1101.0 773.8 L1102.0 763.1 L1103.0 777.5 L1104.0 771.6 L1105.0 768.9 L1106.0 771.2 L1107.0 777.9 L1108.0 776.4 L1109.0 775.9 L1110.0 784.3 L1111.0 787.7 L1112.0 764.3 L1113.0 779.8 L1114.0 770.8 L1115.0 767.4 L1116.0 772.2 L1117.0 780.7 L1118.0 773.4 L1119.0 772.4 L1120.0 782.8 L1121.0 777.7 L1122.0 774.4 L1123.0 784.8 L1124.0 777.4 L1125.0 765.0 L1126.0 768.5 L1127.0 772.0 L1128.0 775.2 L1129.0 779.4 L1130.0 778.8 L1131.0 774.7 L1132.0 767.6 L1133.0 779.2 L1134.0 774.6 L1135.0 768.0 L1136.0 767.2 L1137.0 775.3 L1138.0 776.1 L1139.0 778.7 L1140.0 767.5 L1141.0 785.0 L1142.0 764.4 L1143.0 774.3 L1144.0 782.1 L1145.0 780.6 L1146.0 769.6 L1147.0 778.4 L1148.0 782.0 L1149.0 779.4 L1150.0 770.0 L1151.0 784.8 L1152.0 766.7 L1153.0 776.1 L1154.0 770.0 L1155.0 773.7 L1156.0 774.4 L1157.0 779.2 L1158.0 769.5 L1159.0 777.9 L1160.0 784.0 L1161.0 777.3 L1162.0 780.0 L1163.0 779.5 L1164.0 773.1 L1165.0 775.3 L1166.0 777.7 L1167.0 780.1 L1168.0 788.8 L1169.0 786.7 L1170.0 775.0 L1171.0 775.2 L1172.0 772.0 L1173.0 764.8 L1174.0 785.0 L1175.0 780.7 L1176.0 767.0 L1177.0 777.9 L1178.0 791.0 L1179.0 780.6 L1180.0 780.8 L1181.0 779.1 L1182.0 773.7 L1183.0 771.5 L1184.0 773.4 L1185.0 778.9 L1186.0 776.8 L1187.0 782.1 L1188.0 788.0 L1189.0 781.6 L1190.0 783.0 L1191.0 776.4 L1192.0 771.1 L1193.0 790.5 L1194.0 782.5 L1195.0 785.1 L1196.0 776.4 L1197.0 769.0 L1198.0 785.9 L1199.0 766.5 L1200.0 777.6 L1201.0 775.6 L1202.0 779.8 L1203.0 783.2 L1204.0 783.2 L1205.0 766.9 L1206.0 784.2 L1207.0 768.0 L1208.0 782.5 L1209.0 776.2 L1210.0 772.3 L1211.0 775.7 L1212.0 771.3 L1213.0 778.7 L1214.0 784.0 L1215.0 783.2 L1216.0 779.0 L1217.0 784.9 L1218.0 781.6 L1219.0 790.9 L1220.0 781.7 L1221.0 775.5 L1222.0 777.2 L1223.0 774.6 L1224.0 777.2 L1225.0 778.0 L1226.0 782.7 L1227.0 783.2 L1228.0 779.1 L1229.0 781.2 L1230.0 774.7 L1231.0 775.7 L1232.0 765.0 L1233.0 774.4 L1234.0 776.0 L1235.0 793.2 L1236.0 771.1 L1237.0 779.1 L1238.0 776.8 L1239.0 769.8 L1240.0 780.1 L1241.0 778.7 L1242.0 770.4 L1243.0 765.5 L1244.0 778.2 L1245.0 770.5 L1246.0 782.2 L1247.0 776.9 L1248.0 781.4 L1249.0 776.7 L1250.0 787.0 L1251.0 782.2 L1252.0 786.9 L1253.0 778.9 L1254.0 768.1 L1255.0 770.3 L1256.0 775.4 L1257.0 779.8 L1258.0 774.6 L1259.0 791.9 L1260.0 777.7 L1261.0 780.6 L1262.0 778.4 L1263.0 770.9 L1264.0 783.8 L1265.0 781.5 L1266.0 782.7 L1267.0 772.5 L1268.0 777.8 L1269.0 777.4 L1270.0 784.2 L1271.0 769.8 L1272.0 781.3 L1273.0 784.6 L1274.0 775.1 L1275.0 772.8 L1276.0 784.8 L1277.0 778.6 L1278.0 783.6" fill="none" stroke="#00a864" stroke-width="7.0" stroke-linejoin="round" stroke-linecap="round"/>
</g>
<line x1="929" y1="75.3" x2="1019" y2="75.3" stroke="#4f4f4f" stroke-width="6.8" stroke-linecap="round"/>
<line x1="929" y1="124.8" x2="1019" y2="124.8" stroke="#ff3a3a" stroke-width="6.8" stroke-linecap="round"/>
<line x1="929" y1="174.2" x2="1019" y2="174.2" stroke="#0064e1" stroke-width="6.8" stroke-linecap="round"/>
<line x1="929" y1="223.8" x2="1019" y2="223.8" stroke="#00a864" stroke-width="6.8" stroke-linecap="round"/>
<text transform="translate(1052.5,90.6) scale(0.85,1)" font-size="47" text-anchor="middle" stroke="#fff" stroke-width="0.5">1</text>
<text transform="translate(1075.1,90.6) scale(0.9,1)" font-size="47" text-anchor="middle" stroke="#fff" stroke-width="0.5">5</text>
<text x="1120.3" y="90.6" font-size="47" text-anchor="middle" stroke="#fff" stroke-width="0.5">p</text>
<text x="1142.9" y="90.6" font-size="47" text-anchor="middle" stroke="#fff" stroke-width="0.5">u</text>
<text transform="translate(1165.5,90.6) scale(1.25,1)" font-size="47" text-anchor="middle" stroke="#fff" stroke-width="0.5">l</text>
<text x="1188.1" y="90.6" font-size="47" text-anchor="middle" stroke="#fff" stroke-width="0.5">s</text>
<text x="1210.7" y="90.6" font-size="47" text-anchor="middle" stroke="#fff" stroke-width="0.5">e</text>
<text x="1233.3" y="90.6" font-size="47" text-anchor="middle" stroke="#fff" stroke-width="0.5">s</text>
<text transform="translate(1052.5,139.2) scale(0.9,1)" font-size="47" text-anchor="middle" stroke="#fff" stroke-width="0.5">9</text>
<text transform="translate(1075.1,139.2) scale(0.9,1)" font-size="47" text-anchor="middle" stroke="#fff" stroke-width="0.5">3</text>
<text x="1120.3" y="139.2" font-size="47" text-anchor="middle" stroke="#fff" stroke-width="0.5">p</text>
<text x="1142.9" y="139.2" font-size="47" text-anchor="middle" stroke="#fff" stroke-width="0.5">u</text>
<text transform="translate(1165.5,139.2) scale(1.25,1)" font-size="47" text-anchor="middle" stroke="#fff" stroke-width="0.5">l</text>
<text x="1188.1" y="139.2" font-size="47" text-anchor="middle" stroke="#fff" stroke-width="0.5">s</text>
<text x="1210.7" y="139.2" font-size="47" text-anchor="middle" stroke="#fff" stroke-width="0.5">e</text>
<text x="1233.3" y="139.2" font-size="47" text-anchor="middle" stroke="#fff" stroke-width="0.5">s</text>
<text transform="translate(1052.5,188.8) scale(0.9,1)" font-size="47" text-anchor="middle" stroke="#fff" stroke-width="0.5">3</text>
<text transform="translate(1075.1,188.8) scale(0.9,1)" font-size="47" text-anchor="middle" stroke="#fff" stroke-width="0.5">9</text>
<text transform="translate(1097.7,188.8) scale(0.9,1)" font-size="47" text-anchor="middle" stroke="#fff" stroke-width="0.5">0</text>
<text x="1142.9" y="188.8" font-size="47" text-anchor="middle" stroke="#fff" stroke-width="0.5">p</text>
<text x="1165.5" y="188.8" font-size="47" text-anchor="middle" stroke="#fff" stroke-width="0.5">u</text>
<text transform="translate(1188.1,188.8) scale(1.25,1)" font-size="47" text-anchor="middle" stroke="#fff" stroke-width="0.5">l</text>
<text x="1210.7" y="188.8" font-size="47" text-anchor="middle" stroke="#fff" stroke-width="0.5">s</text>
<text x="1233.3" y="188.8" font-size="47" text-anchor="middle" stroke="#fff" stroke-width="0.5">e</text>
<text x="1255.9" y="188.8" font-size="47" text-anchor="middle" stroke="#fff" stroke-width="0.5">s</text>
<text transform="translate(1052.5,237.6) scale(0.9,1)" font-size="47" text-anchor="middle" stroke="#fff" stroke-width="0.5">7</text>
<text transform="translate(1075.1,237.6) scale(0.9,1)" font-size="47" text-anchor="middle" stroke="#fff" stroke-width="0.5">8</text>
<text transform="translate(1097.7,237.6) scale(0.9,1)" font-size="47" text-anchor="middle" stroke="#fff" stroke-width="0.5">0</text>
<text x="1142.9" y="237.6" font-size="47" text-anchor="middle" stroke="#fff" stroke-width="0.5">p</text>
<text x="1165.5" y="237.6" font-size="47" text-anchor="middle" stroke="#fff" stroke-width="0.5">u</text>
<text transform="translate(1188.1,237.6) scale(1.25,1)" font-size="47" text-anchor="middle" stroke="#fff" stroke-width="0.5">l</text>
<text x="1210.7" y="237.6" font-size="47" text-anchor="middle" stroke="#fff" stroke-width="0.5">s</text>
<text x="1233.3" y="237.6" font-size="47" text-anchor="middle" stroke="#fff" stroke-width="0.5">e</text>
<text x="1255.9" y="237.6" font-size="47" text-anchor="middle" stroke="#fff" stroke-width="0.5">s</text>
<text transform="translate(107.6,826.7) scale(0.9,1)" font-size="57.5" text-anchor="middle" stroke="#fff" stroke-width="0.5">0</text>
<text x="129.0" y="826.7" font-size="57.5" text-anchor="middle">.</text>
<text transform="translate(164.6,826.7) scale(0.9,1)" font-size="57.5" text-anchor="middle" stroke="#fff" stroke-width="0.5">0</text>
<text transform="translate(107.6,683.1) scale(0.9,1)" font-size="57.5" text-anchor="middle" stroke="#fff" stroke-width="0.5">0</text>
<text x="129.0" y="683.1" font-size="57.5" text-anchor="middle">.</text>
<text transform="translate(164.6,683.1) scale(0.9,1)" font-size="57.5" text-anchor="middle" stroke="#fff" stroke-width="0.5">2</text>
<text transform="translate(107.6,539.5) scale(0.9,1)" font-size="57.5" text-anchor="middle" stroke="#fff" stroke-width="0.5">0</text>
<text x="129.0" y="539.5" font-size="57.5" text-anchor="middle">.</text>
<text transform="translate(164.6,539.5) scale(0.9,1)" font-size="57.5" text-anchor="middle" stroke="#fff" stroke-width="0.5">4</text>
<text transform="translate(107.6,395.9) scale(0.9,1)" font-size="57.5" text-anchor="middle" stroke="#fff" stroke-width="0.5">0</text>
<text x="129.0" y="395.9" font-size="57.5" text-anchor="middle">.</text>
<text transform="translate(164.6,395.9) scale(0.9,1)" font-size="57.5" text-anchor="middle" stroke="#fff" stroke-width="0.5">6</text>
<text transform="translate(107.6,252.3) scale(0.9,1)" font-size="57.5" text-anchor="middle" stroke="#fff" stroke-width="0.5">0</text>
<text x="129.0" y="252.3" font-size="57.5" text-anchor="middle">.</text>
<text transform="translate(164.6,252.3) scale(0.9,1)" font-size="57.5" text-anchor="middle" stroke="#fff" stroke-width="0.5">8</text>
<text transform="translate(107.6,108.7) scale(0.85,1)" font-size="57.5" text-anchor="middle" stroke="#fff" stroke-width="0.5">1</text>
<text x="129.0" y="108.7" font-size="57.5" text-anchor="middle">.</text>
<text transform="translate(164.6,108.7) scale(0.9,1)" font-size="57.5" text-anchor="middle" stroke="#fff" stroke-width="0.5">0</text>
<text transform="translate(165.6,953.6) scale(0.85,1)" font-size="58.3" text-anchor="middle" stroke="#fff" stroke-width="0.5">1</text>
<text transform="translate(193.9,953.6) scale(0.9,1)" font-size="58.3" text-anchor="middle" stroke="#fff" stroke-width="0.5">0</text>
<text transform="translate(222.1,953.6) scale(0.85,1)" font-size="58.3" text-anchor="middle" stroke="#fff" stroke-width="0.5">1</text>
<text transform="translate(250.4,953.6) scale(0.9,1)" font-size="58.3" text-anchor="middle" stroke="#fff" stroke-width="0.5">5</text>
<text transform="translate(343.9,953.6) scale(0.85,1)" font-size="58.3" text-anchor="middle" stroke="#fff" stroke-width="0.5">1</text>
<text transform="translate(372.2,953.6) scale(0.9,1)" font-size="58.3" text-anchor="middle" stroke="#fff" stroke-width="0.5">0</text>
<text transform="translate(400.4,953.6) scale(0.9,1)" font-size="58.3" text-anchor="middle" stroke="#fff" stroke-width="0.5">2</text>
<text transform="translate(428.7,953.6) scale(0.9,1)" font-size="58.3" text-anchor="middle" stroke="#fff" stroke-width="0.5">0</text>
<text transform="translate(522.3,953.6) scale(0.85,1)" font-size="58.3" text-anchor="middle" stroke="#fff" stroke-width="0.5">1</text>
<text transform="translate(550.6,953.6) scale(0.9,1)" font-size="58.3" text-anchor="middle" stroke="#fff" stroke-width="0.5">0</text>
<text transform="translate(578.8,953.6) scale(0.9,1)" font-size="58.3" text-anchor="middle" stroke="#fff" stroke-width="0.5">2</text>
<text transform="translate(607.1,953.6) scale(0.9,1)" font-size="58.3" text-anchor="middle" stroke="#fff" stroke-width="0.5">5</text>
<text transform="translate(700.6,953.6) scale(0.85,1)" font-size="58.3" text-anchor="middle" stroke="#fff" stroke-width="0.5">1</text>
<text transform="translate(728.9,953.6) scale(0.9,1)" font-size="58.3" text-anchor="middle" stroke="#fff" stroke-width="0.5">0</text>
<text transform="translate(757.1,953.6) scale(0.9,1)" font-size="58.3" text-anchor="middle" stroke="#fff" stroke-width="0.5">3</text>
<text transform="translate(785.4,953.6) scale(0.9,1)" font-size="58.3" text-anchor="middle" stroke="#fff" stroke-width="0.5">0</text>
<text transform="translate(878.9,953.6) scale(0.85,1)" font-size="58.3" text-anchor="middle" stroke="#fff" stroke-width="0.5">1</text>
<text transform="translate(907.2,953.6) scale(0.9,1)" font-size="58.3" text-anchor="middle" stroke="#fff" stroke-width="0.5">0</text>
<text transform="translate(935.4,953.6) scale(0.9,1)" font-size="58.3" text-anchor="middle" stroke="#fff" stroke-width="0.5">3</text>
<text transform="translate(963.7,953.6) scale(0.9,1)" font-size="58.3" text-anchor="middle" stroke="#fff" stroke-width="0.5">5</text>
<text transform="translate(1057.3,953.6) scale(0.85,1)" font-size="58.3" text-anchor="middle" stroke="#fff" stroke-width="0.5">1</text>
<text transform="translate(1085.6,953.6) scale(0.9,1)" font-size="58.3" text-anchor="middle" stroke="#fff" stroke-width="0.5">0</text>
<text transform="translate(1113.8,953.6) scale(0.9,1)" font-size="58.3" text-anchor="middle" stroke="#fff" stroke-width="0.5">4</text>
<text transform="translate(1142.1,953.6) scale(0.9,1)" font-size="58.3" text-anchor="middle" stroke="#fff" stroke-width="0.5">0</text>
<text transform="translate(1235.6,953.6) scale(0.85,1)" font-size="58.3" text-anchor="middle" stroke="#fff" stroke-width="0.5">1</text>
<text transform="translate(1263.9,953.6) scale(0.9,1)" font-size="58.3" text-anchor="middle" stroke="#fff" stroke-width="0.5">0</text>
<text transform="translate(1292.1,953.6) scale(0.9,1)" font-size="58.3" text-anchor="middle" stroke="#fff" stroke-width="0.5">4</text>
<text transform="translate(1320.4,953.6) scale(0.9,1)" font-size="58.3" text-anchor="middle" stroke="#fff" stroke-width="0.5">5</text>
<text transform="translate(490.3,1015.5) scale(0.55,1)" font-size="56" text-anchor="middle" font-weight="bold" stroke="#fff" stroke-width="0.5">W</text>
<text x="518.8" y="1015.5" font-size="56" text-anchor="middle" stroke="#fff" stroke-width="0.5">a</text>
<text x="547.3" y="1015.5" font-size="56" text-anchor="middle" stroke="#fff" stroke-width="0.5">v</text>
<text x="575.8" y="1015.5" font-size="56" text-anchor="middle" stroke="#fff" stroke-width="0.5">e</text>
<text transform="translate(604.3,1015.5) scale(1.25,1)" font-size="56" text-anchor="middle" stroke="#fff" stroke-width="0.5">l</text>
<text x="632.8" y="1015.5" font-size="56" text-anchor="middle" stroke="#fff" stroke-width="0.5">e</text>
<text x="661.3" y="1015.5" font-size="56" text-anchor="middle" stroke="#fff" stroke-width="0.5">n</text>
<text x="689.8" y="1015.5" font-size="56" text-anchor="middle" stroke="#fff" stroke-width="0.5">g</text>
<text x="718.3" y="1015.5" font-size="56" text-anchor="middle" stroke="#fff" stroke-width="0.5">t</text>
<text x="746.8" y="1015.5" font-size="56" text-anchor="middle" stroke="#fff" stroke-width="0.5">h</text>
<text x="862.0" y="1015.5" font-size="56" text-anchor="middle" stroke="#fff" stroke-width="0.5">n</text>
<text transform="translate(890.5,1015.5) scale(0.66,1)" font-size="56" text-anchor="middle" stroke="#fff" stroke-width="0.5">m</text>
<path d="M838 974.5 Q814 996 838 1017" fill="none" stroke="#000" stroke-width="2.6"/>
<path d="M913 974.5 Q937 996 913 1017" fill="none" stroke="#000" stroke-width="2.6"/>
<text transform="translate(68.6,798.8) rotate(-90)" x="0" y="0" font-size="72" text-anchor="middle" stroke="#fff" stroke-width="0.5">I</text>
<text transform="translate(68.6,762.6) rotate(-90)" x="0" y="0" font-size="72" text-anchor="middle" stroke="#fff" stroke-width="0.5">n</text>
<text transform="translate(68.6,726.4) rotate(-90)" x="0" y="0" font-size="72" text-anchor="middle" stroke="#fff" stroke-width="0.5">t</text>
<text transform="translate(68.6,690.2) rotate(-90)" x="0" y="0" font-size="72" text-anchor="middle" stroke="#fff" stroke-width="0.5">e</text>
<text transform="translate(68.6,654.0) rotate(-90)" x="0" y="0" font-size="72" text-anchor="middle" stroke="#fff" stroke-width="0.5">n</text>
<text transform="translate(68.6,617.8) rotate(-90)" x="0" y="0" font-size="72" text-anchor="middle" stroke="#fff" stroke-width="0.5">s</text>
<text transform="translate(68.6,581.6) rotate(-90)" x="0" y="0" font-size="72" text-anchor="middle" stroke="#fff" stroke-width="0.5">i</text>
<text transform="translate(68.6,545.4) rotate(-90)" x="0" y="0" font-size="72" text-anchor="middle" stroke="#fff" stroke-width="0.5">t</text>
<text transform="translate(68.6,509.2) rotate(-90)" x="0" y="0" font-size="72" text-anchor="middle" stroke="#fff" stroke-width="0.5">y</text>
<text transform="translate(68.6,364.3) rotate(-90)" x="0" y="0" font-size="72" text-anchor="middle" stroke="#fff" stroke-width="0.5">a</text>
<text transform="translate(68.6,292.2) rotate(-90)" x="0" y="0" font-size="72" text-anchor="middle" stroke="#fff" stroke-width="0.5">u</text>
<circle cx="64.5" cy="335.5" r="4.2" fill="#000"/>
<circle cx="64.5" cy="262.7" r="4.2" fill="#000"/>
<path d="M17 393.5 Q44 432 71 393.5" fill="none" stroke="#000" stroke-width="2.8"/>
<path d="M12 232.3 Q44 194 76 232.3" fill="none" stroke="#000" stroke-width="2.8"/>
</svg>
</body></html>
